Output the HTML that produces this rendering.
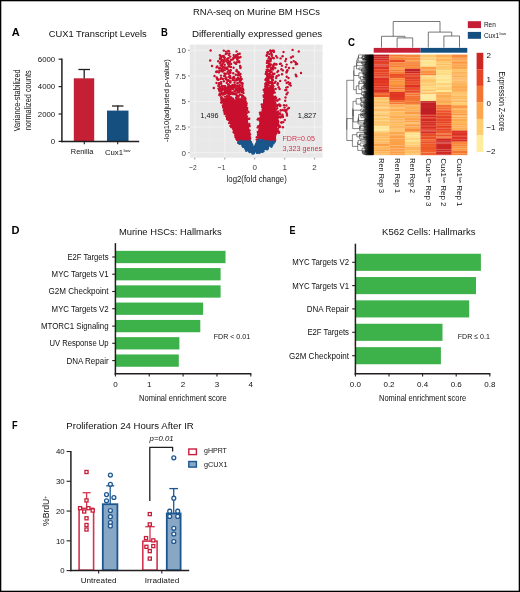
<!DOCTYPE html>
<html><head><meta charset="utf-8"><style>
html,body{margin:0;padding:0;background:#fff;}
svg{display:block;will-change:transform;}
text{font-family:"Liberation Sans",sans-serif;}
</style></head><body>
<svg width="520" height="592" viewBox="0 0 520 592" font-family="Liberation Sans, sans-serif" fill="#111111">
<rect x="0" y="0" width="520" height="592" fill="#fff"/>
<text x="193.00" y="15.20" font-size="9.4" textLength="127.00" lengthAdjust="spacingAndGlyphs">RNA-seq on Murine BM HSCs</text>
<text x="11.80" y="35.80" font-size="10" fill="#000" font-weight="bold" textLength="8.00" lengthAdjust="spacingAndGlyphs">A</text>
<text x="161.00" y="35.80" font-size="10" fill="#000" font-weight="bold" textLength="6.80" lengthAdjust="spacingAndGlyphs">B</text>
<text x="348.00" y="46.30" font-size="10" fill="#000" font-weight="bold" textLength="7.00" lengthAdjust="spacingAndGlyphs">C</text>
<text x="11.50" y="234.40" font-size="10" fill="#000" font-weight="bold" textLength="8.00" lengthAdjust="spacingAndGlyphs">D</text>
<text x="289.40" y="234.20" font-size="10" fill="#000" font-weight="bold" textLength="6.00" lengthAdjust="spacingAndGlyphs">E</text>
<text x="12.00" y="428.80" font-size="10" fill="#000" font-weight="bold" textLength="5.60" lengthAdjust="spacingAndGlyphs">F</text>
<text x="48.80" y="36.80" font-size="9.6" textLength="98.00" lengthAdjust="spacingAndGlyphs">CUX1 Transcript Levels</text>
<rect x="73.80" y="78.30" width="20.40" height="63.10" fill="#c41f35"/>
<rect x="107.00" y="110.60" width="21.50" height="30.80" fill="#144f80"/>
<line x1="84.20" y1="78.50" x2="84.20" y2="68.90" stroke="#231f20" stroke-width="1.3"/>
<line x1="78.40" y1="69.50" x2="90.00" y2="69.50" stroke="#231f20" stroke-width="1.3"/>
<line x1="117.80" y1="110.80" x2="117.80" y2="105.40" stroke="#231f20" stroke-width="1.3"/>
<line x1="112.00" y1="106.00" x2="123.50" y2="106.00" stroke="#231f20" stroke-width="1.3"/>
<line x1="61.90" y1="58.40" x2="61.90" y2="142.15" stroke="#231f20" stroke-width="1.5"/>
<line x1="61.15" y1="141.40" x2="139.20" y2="141.40" stroke="#231f20" stroke-width="1.5"/>
<line x1="58.60" y1="141.40" x2="61.90" y2="141.40" stroke="#231f20" stroke-width="1.2"/>
<text x="55.20" y="144.20" font-size="7.8" text-anchor="end">0</text>
<line x1="58.60" y1="114.00" x2="61.90" y2="114.00" stroke="#231f20" stroke-width="1.2"/>
<text x="55.20" y="116.80" font-size="7.8" text-anchor="end">2000</text>
<line x1="58.60" y1="86.60" x2="61.90" y2="86.60" stroke="#231f20" stroke-width="1.2"/>
<text x="55.20" y="89.40" font-size="7.8" text-anchor="end">4000</text>
<line x1="58.60" y1="59.20" x2="61.90" y2="59.20" stroke="#231f20" stroke-width="1.2"/>
<text x="55.20" y="62.00" font-size="7.8" text-anchor="end">6000</text>
<line x1="84.30" y1="141.40" x2="84.30" y2="144.20" stroke="#231f20" stroke-width="1.1"/>
<line x1="117.70" y1="141.40" x2="117.70" y2="144.20" stroke="#231f20" stroke-width="1.1"/>
<text x="82.10" y="154.30" font-size="8" text-anchor="middle" textLength="22.60" lengthAdjust="spacingAndGlyphs">Renilla</text>
<text x="104.90" y="155.40" font-size="8" textLength="18.10" lengthAdjust="spacingAndGlyphs">Cux1</text>
<text x="123.40" y="152.40" font-size="4.2" textLength="7.20" lengthAdjust="spacingAndGlyphs">low</text>
<text x="20.20" y="100.30" font-size="9.6" text-anchor="middle" textLength="62.00" lengthAdjust="spacingAndGlyphs" transform="rotate(-90 20.20 100.30)">Variance-stabilized</text>
<text x="31.30" y="100.30" font-size="9.6" text-anchor="middle" textLength="60.00" lengthAdjust="spacingAndGlyphs" transform="rotate(-90 31.30 100.30)">normalized counts</text>
<text x="191.90" y="36.60" font-size="9.4" textLength="130.30" lengthAdjust="spacingAndGlyphs">Differentially expressed genes</text>
<rect x="189.80" y="44.60" width="132.70" height="113.10" fill="#e8e8e8"/>
<line x1="194.80" y1="44.60" x2="194.80" y2="157.70" stroke="#f2f2f2" stroke-width="1.0"/>
<line x1="209.77" y1="44.60" x2="209.77" y2="157.70" stroke="#ededed" stroke-width="0.6"/>
<line x1="224.75" y1="44.60" x2="224.75" y2="157.70" stroke="#f2f2f2" stroke-width="1.0"/>
<line x1="239.72" y1="44.60" x2="239.72" y2="157.70" stroke="#ededed" stroke-width="0.6"/>
<line x1="254.70" y1="44.60" x2="254.70" y2="157.70" stroke="#f2f2f2" stroke-width="1.0"/>
<line x1="269.68" y1="44.60" x2="269.68" y2="157.70" stroke="#ededed" stroke-width="0.6"/>
<line x1="284.65" y1="44.60" x2="284.65" y2="157.70" stroke="#f2f2f2" stroke-width="1.0"/>
<line x1="299.62" y1="44.60" x2="299.62" y2="157.70" stroke="#ededed" stroke-width="0.6"/>
<line x1="314.60" y1="44.60" x2="314.60" y2="157.70" stroke="#f2f2f2" stroke-width="1.0"/>
<line x1="189.80" y1="152.70" x2="322.50" y2="152.70" stroke="#f2f2f2" stroke-width="1.0"/>
<line x1="189.80" y1="139.90" x2="322.50" y2="139.90" stroke="#ededed" stroke-width="0.6"/>
<line x1="189.80" y1="127.10" x2="322.50" y2="127.10" stroke="#f2f2f2" stroke-width="1.0"/>
<line x1="189.80" y1="114.30" x2="322.50" y2="114.30" stroke="#ededed" stroke-width="0.6"/>
<line x1="189.80" y1="101.50" x2="322.50" y2="101.50" stroke="#f2f2f2" stroke-width="1.0"/>
<line x1="189.80" y1="88.70" x2="322.50" y2="88.70" stroke="#ededed" stroke-width="0.6"/>
<line x1="189.80" y1="75.90" x2="322.50" y2="75.90" stroke="#f2f2f2" stroke-width="1.0"/>
<line x1="189.80" y1="63.10" x2="322.50" y2="63.10" stroke="#ededed" stroke-width="0.6"/>
<line x1="189.80" y1="50.30" x2="322.50" y2="50.30" stroke="#f2f2f2" stroke-width="1.0"/>
<g fill="#c8102e"><polygon points="221.5,100.5 233.0,100.0 245.5,100.5 247.0,115.0 249.5,130.0 250.3,139.6 236.5,139.6 236.0,138.0 226.2,115.0"/><polygon points="264.0,90.0 273.2,90.0 273.5,95.0 276.0,111.0 278.0,115.0 277.0,130.0 275.8,139.6 257.3,139.6 258.3,129.0 260.5,115.0 262.2,108.0 264.3,95.0"/></g>
<g fill="#1a558c"><polygon points="237.5,139.5 250.6,139.5 253.8,146.5 257.0,139.5 275.5,139.5 271.5,145.0 266.3,149.5 260.5,152.3 252.5,152.3 246.4,149.5 241.3,145.0"/></g>
<g fill="#1a558c"><circle cx="267.4" cy="147.5" r="1.2"/><circle cx="271.9" cy="143.3" r="1.2"/><circle cx="258.1" cy="139.9" r="1.2"/><circle cx="273.8" cy="141.5" r="1.2"/><circle cx="237.9" cy="140.5" r="1.2"/><circle cx="254.1" cy="152.5" r="1.2"/><circle cx="245.3" cy="148.8" r="1.2"/><circle cx="264.6" cy="139.9" r="1.2"/><circle cx="248.1" cy="141.0" r="1.2"/><circle cx="257.5" cy="152.7" r="1.2"/><circle cx="247.5" cy="149.2" r="1.2"/><circle cx="257.2" cy="151.3" r="1.2"/><circle cx="243.2" cy="146.8" r="1.2"/><circle cx="267.9" cy="148.1" r="1.2"/><circle cx="274.8" cy="140.1" r="1.2"/><circle cx="258.0" cy="140.1" r="1.2"/><circle cx="271.4" cy="146.8" r="1.2"/><circle cx="239.9" cy="143.3" r="1.2"/><circle cx="242.9" cy="146.2" r="1.2"/><circle cx="270.1" cy="145.1" r="1.2"/><circle cx="251.8" cy="151.8" r="1.2"/><circle cx="273.2" cy="141.3" r="1.2"/><circle cx="265.1" cy="140.1" r="1.2"/><circle cx="274.2" cy="142.3" r="1.2"/><circle cx="245.6" cy="148.0" r="1.2"/><circle cx="251.2" cy="143.9" r="1.2"/><circle cx="248.9" cy="150.8" r="1.2"/><circle cx="243.4" cy="146.2" r="1.2"/><circle cx="238.5" cy="139.9" r="1.2"/><circle cx="275.0" cy="140.8" r="1.2"/><circle cx="266.3" cy="148.8" r="1.2"/><circle cx="237.7" cy="139.9" r="1.2"/><circle cx="262.2" cy="151.8" r="1.2"/><circle cx="247.1" cy="149.7" r="1.2"/><circle cx="252.2" cy="144.6" r="1.2"/><circle cx="249.6" cy="140.3" r="1.2"/><circle cx="274.2" cy="141.0" r="1.2"/><circle cx="251.0" cy="151.6" r="1.2"/><circle cx="253.7" cy="153.2" r="1.2"/><circle cx="262.5" cy="139.9" r="1.2"/><circle cx="238.9" cy="143.0" r="1.2"/><circle cx="256.4" cy="144.2" r="1.2"/><circle cx="246.2" cy="150.8" r="1.2"/><circle cx="249.8" cy="152.0" r="1.2"/><circle cx="238.2" cy="142.7" r="1.2"/><circle cx="253.5" cy="147.4" r="1.2"/><circle cx="238.8" cy="142.5" r="1.2"/><circle cx="249.0" cy="151.2" r="1.2"/><circle cx="250.9" cy="142.2" r="1.2"/><circle cx="239.7" cy="143.3" r="1.2"/><circle cx="272.3" cy="140.2" r="1.2"/><circle cx="263.6" cy="140.3" r="1.2"/><circle cx="273.9" cy="140.9" r="1.2"/><circle cx="253.4" cy="152.9" r="1.2"/><circle cx="271.0" cy="145.8" r="1.2"/><circle cx="246.2" cy="140.5" r="1.2"/><circle cx="271.2" cy="145.4" r="1.2"/><circle cx="254.8" cy="146.5" r="1.2"/><circle cx="254.6" cy="151.5" r="1.2"/><circle cx="262.3" cy="150.8" r="1.2"/><circle cx="267.0" cy="149.3" r="1.2"/><circle cx="242.4" cy="145.1" r="1.2"/><circle cx="240.9" cy="140.3" r="1.2"/><circle cx="259.3" cy="152.9" r="1.2"/><circle cx="262.2" cy="151.5" r="1.2"/><circle cx="248.6" cy="150.0" r="1.2"/><circle cx="252.5" cy="153.5" r="1.2"/><circle cx="257.0" cy="152.8" r="1.2"/><circle cx="257.5" cy="141.8" r="1.2"/><circle cx="257.6" cy="151.6" r="1.2"/><circle cx="272.5" cy="139.8" r="1.2"/><circle cx="260.8" cy="151.8" r="1.2"/><circle cx="273.3" cy="143.4" r="1.2"/><circle cx="272.6" cy="143.6" r="1.2"/><circle cx="258.7" cy="140.2" r="1.2"/><circle cx="263.4" cy="151.3" r="1.2"/><circle cx="272.9" cy="141.7" r="1.2"/><circle cx="261.6" cy="140.7" r="1.2"/><circle cx="249.2" cy="150.9" r="1.2"/><circle cx="248.3" cy="140.1" r="1.2"/><circle cx="248.0" cy="140.1" r="1.2"/><circle cx="272.1" cy="145.4" r="1.2"/><circle cx="270.2" cy="140.2" r="1.2"/><circle cx="267.7" cy="148.6" r="1.2"/><circle cx="247.8" cy="149.8" r="1.2"/><circle cx="253.3" cy="151.4" r="1.2"/><circle cx="260.1" cy="140.5" r="1.2"/><circle cx="258.5" cy="140.1" r="1.2"/><circle cx="249.4" cy="149.8" r="1.2"/><circle cx="239.8" cy="143.8" r="1.2"/></g>
<g fill="#c8102e"><circle cx="219.5" cy="70.7" r="1.2"/><circle cx="219.3" cy="83.4" r="1.2"/><circle cx="226.2" cy="79.3" r="1.2"/><circle cx="230.2" cy="56.6" r="1.2"/><circle cx="228.8" cy="55.0" r="1.2"/><circle cx="221.0" cy="57.4" r="1.2"/><circle cx="237.5" cy="74.9" r="1.2"/><circle cx="223.2" cy="60.8" r="1.2"/><circle cx="241.3" cy="82.6" r="1.2"/><circle cx="227.2" cy="80.8" r="1.2"/><circle cx="220.5" cy="94.3" r="1.2"/><circle cx="225.8" cy="90.5" r="1.2"/><circle cx="220.5" cy="62.0" r="1.2"/><circle cx="236.7" cy="70.0" r="1.2"/><circle cx="231.1" cy="63.9" r="1.2"/><circle cx="226.8" cy="83.0" r="1.2"/><circle cx="218.5" cy="79.7" r="1.2"/><circle cx="223.6" cy="56.7" r="1.2"/><circle cx="228.4" cy="84.5" r="1.2"/><circle cx="230.8" cy="70.3" r="1.2"/><circle cx="224.1" cy="76.1" r="1.2"/><circle cx="235.6" cy="88.4" r="1.2"/><circle cx="230.7" cy="67.1" r="1.2"/><circle cx="239.1" cy="78.9" r="1.2"/><circle cx="225.1" cy="86.2" r="1.2"/><circle cx="222.3" cy="94.4" r="1.2"/><circle cx="235.7" cy="74.7" r="1.2"/><circle cx="229.1" cy="62.4" r="1.2"/><circle cx="233.7" cy="55.1" r="1.2"/><circle cx="232.4" cy="87.4" r="1.2"/><circle cx="226.5" cy="91.0" r="1.2"/><circle cx="232.6" cy="85.0" r="1.2"/><circle cx="228.7" cy="80.9" r="1.2"/><circle cx="241.8" cy="89.9" r="1.2"/><circle cx="233.5" cy="76.9" r="1.2"/><circle cx="234.4" cy="56.8" r="1.2"/><circle cx="242.5" cy="83.3" r="1.2"/><circle cx="225.4" cy="89.3" r="1.2"/><circle cx="233.2" cy="73.3" r="1.2"/><circle cx="229.5" cy="53.6" r="1.2"/><circle cx="220.1" cy="63.3" r="1.2"/><circle cx="235.8" cy="56.6" r="1.2"/><circle cx="223.7" cy="61.1" r="1.2"/><circle cx="238.5" cy="73.6" r="1.2"/><circle cx="228.7" cy="58.1" r="1.2"/><circle cx="239.4" cy="79.8" r="1.2"/><circle cx="239.8" cy="89.2" r="1.2"/><circle cx="226.5" cy="68.7" r="1.2"/><circle cx="238.7" cy="72.2" r="1.2"/><circle cx="223.0" cy="93.7" r="1.2"/><circle cx="222.8" cy="63.7" r="1.2"/><circle cx="228.5" cy="66.6" r="1.2"/><circle cx="223.8" cy="81.2" r="1.2"/><circle cx="229.0" cy="51.4" r="1.2"/><circle cx="230.5" cy="72.7" r="1.2"/><circle cx="236.3" cy="93.5" r="1.2"/><circle cx="232.5" cy="78.5" r="1.2"/><circle cx="219.0" cy="84.3" r="1.2"/><circle cx="238.1" cy="91.8" r="1.2"/><circle cx="238.4" cy="91.0" r="1.2"/><circle cx="226.3" cy="73.6" r="1.2"/><circle cx="232.7" cy="59.6" r="1.2"/><circle cx="220.6" cy="56.9" r="1.2"/><circle cx="220.8" cy="65.4" r="1.2"/><circle cx="217.1" cy="71.4" r="1.2"/><circle cx="223.8" cy="50.6" r="1.2"/><circle cx="226.6" cy="59.5" r="1.2"/><circle cx="238.1" cy="53.9" r="1.2"/><circle cx="221.1" cy="82.1" r="1.2"/><circle cx="224.9" cy="67.5" r="1.2"/><circle cx="219.0" cy="72.4" r="1.2"/><circle cx="243.1" cy="90.2" r="1.2"/><circle cx="228.9" cy="76.6" r="1.2"/><circle cx="220.9" cy="58.5" r="1.2"/><circle cx="222.6" cy="71.5" r="1.2"/><circle cx="222.4" cy="89.5" r="1.2"/><circle cx="239.7" cy="53.7" r="1.2"/><circle cx="220.6" cy="79.0" r="1.2"/><circle cx="217.6" cy="79.5" r="1.2"/><circle cx="241.7" cy="79.0" r="1.2"/><circle cx="235.8" cy="90.6" r="1.2"/><circle cx="225.4" cy="67.9" r="1.2"/><circle cx="235.7" cy="63.2" r="1.2"/><circle cx="236.7" cy="79.1" r="1.2"/><circle cx="221.4" cy="71.0" r="1.2"/><circle cx="242.7" cy="88.9" r="1.2"/><circle cx="238.5" cy="90.3" r="1.2"/><circle cx="236.7" cy="89.2" r="1.2"/><circle cx="229.4" cy="66.2" r="1.2"/><circle cx="216.6" cy="72.1" r="1.2"/><circle cx="225.7" cy="54.1" r="1.2"/><circle cx="233.6" cy="67.8" r="1.2"/><circle cx="230.3" cy="93.6" r="1.2"/><circle cx="243.5" cy="93.0" r="1.2"/><circle cx="228.2" cy="93.6" r="1.2"/><circle cx="222.2" cy="65.9" r="1.2"/><circle cx="221.9" cy="64.8" r="1.2"/><circle cx="240.1" cy="82.5" r="1.2"/><circle cx="230.3" cy="89.9" r="1.2"/><circle cx="237.6" cy="83.5" r="1.2"/><circle cx="233.4" cy="58.4" r="1.2"/><circle cx="238.3" cy="92.1" r="1.2"/><circle cx="229.9" cy="86.9" r="1.2"/><circle cx="236.1" cy="63.8" r="1.2"/><circle cx="236.4" cy="71.1" r="1.2"/><circle cx="229.1" cy="94.1" r="1.2"/><circle cx="240.5" cy="74.0" r="1.2"/><circle cx="222.1" cy="86.0" r="1.2"/><circle cx="221.5" cy="61.0" r="1.2"/><circle cx="238.8" cy="92.0" r="1.2"/><circle cx="237.0" cy="62.1" r="1.2"/><circle cx="235.6" cy="94.4" r="1.2"/><circle cx="230.0" cy="71.9" r="1.2"/><circle cx="218.2" cy="61.2" r="1.2"/><circle cx="235.4" cy="94.1" r="1.2"/><circle cx="240.6" cy="78.9" r="1.2"/><circle cx="238.7" cy="75.3" r="1.2"/><circle cx="223.6" cy="89.4" r="1.2"/><circle cx="223.6" cy="67.4" r="1.2"/><circle cx="231.0" cy="66.9" r="1.2"/><circle cx="226.7" cy="67.8" r="1.2"/><circle cx="239.0" cy="61.2" r="1.2"/><circle cx="227.7" cy="72.0" r="1.2"/><circle cx="240.0" cy="81.0" r="1.2"/><circle cx="239.8" cy="74.8" r="1.2"/><circle cx="230.2" cy="78.0" r="1.2"/><circle cx="217.3" cy="78.8" r="1.2"/><circle cx="221.0" cy="75.6" r="1.2"/><circle cx="236.6" cy="51.4" r="1.2"/><circle cx="228.6" cy="63.5" r="1.2"/><circle cx="231.8" cy="86.0" r="1.2"/><circle cx="229.1" cy="70.8" r="1.2"/><circle cx="236.9" cy="80.0" r="1.2"/><circle cx="231.0" cy="59.8" r="1.2"/><circle cx="223.2" cy="67.3" r="1.2"/><circle cx="230.8" cy="87.6" r="1.2"/><circle cx="236.3" cy="80.2" r="1.2"/><circle cx="229.9" cy="92.2" r="1.2"/><circle cx="230.1" cy="82.1" r="1.2"/><circle cx="234.4" cy="78.4" r="1.2"/><circle cx="230.1" cy="76.0" r="1.2"/><circle cx="240.6" cy="77.0" r="1.2"/><circle cx="239.7" cy="85.1" r="1.2"/><circle cx="225.5" cy="93.2" r="1.2"/><circle cx="240.9" cy="80.1" r="1.2"/><circle cx="221.9" cy="89.9" r="1.2"/><circle cx="228.2" cy="60.7" r="1.2"/><circle cx="224.2" cy="57.6" r="1.2"/><circle cx="233.6" cy="57.6" r="1.2"/><circle cx="240.5" cy="88.0" r="1.2"/><circle cx="234.4" cy="62.5" r="1.2"/><circle cx="221.2" cy="83.8" r="1.2"/><circle cx="242.7" cy="91.3" r="1.2"/><circle cx="240.1" cy="65.9" r="1.2"/><circle cx="228.6" cy="73.9" r="1.2"/><circle cx="240.0" cy="94.7" r="1.2"/><circle cx="227.7" cy="62.9" r="1.2"/><circle cx="225.4" cy="78.5" r="1.2"/><circle cx="224.7" cy="64.7" r="1.2"/><circle cx="218.4" cy="85.9" r="1.2"/><circle cx="228.2" cy="79.9" r="1.2"/><circle cx="226.9" cy="53.2" r="1.2"/><circle cx="230.3" cy="82.5" r="1.2"/><circle cx="240.5" cy="57.0" r="1.2"/><circle cx="242.3" cy="88.2" r="1.2"/><circle cx="224.4" cy="59.7" r="1.2"/><circle cx="236.1" cy="55.1" r="1.2"/><circle cx="219.3" cy="68.3" r="1.2"/><circle cx="239.6" cy="74.8" r="1.2"/><circle cx="224.8" cy="89.2" r="1.2"/><circle cx="239.2" cy="62.3" r="1.2"/><circle cx="234.8" cy="80.5" r="1.2"/><circle cx="219.9" cy="58.7" r="1.2"/><circle cx="228.4" cy="84.8" r="1.2"/><circle cx="239.5" cy="57.6" r="1.2"/><circle cx="237.6" cy="82.9" r="1.2"/><circle cx="237.7" cy="58.3" r="1.2"/><circle cx="237.9" cy="57.2" r="1.2"/><circle cx="225.1" cy="76.1" r="1.2"/><circle cx="240.5" cy="79.9" r="1.2"/><circle cx="219.3" cy="68.2" r="1.2"/><circle cx="222.9" cy="78.9" r="1.2"/><circle cx="221.9" cy="60.0" r="1.2"/><circle cx="223.7" cy="56.0" r="1.2"/><circle cx="223.5" cy="70.2" r="1.2"/><circle cx="225.3" cy="87.2" r="1.2"/><circle cx="221.2" cy="77.9" r="1.2"/><circle cx="216.2" cy="71.7" r="1.2"/><circle cx="216.6" cy="67.4" r="1.2"/><circle cx="231.7" cy="86.3" r="1.2"/><circle cx="228.5" cy="64.4" r="1.2"/><circle cx="221.7" cy="92.9" r="1.2"/><circle cx="229.1" cy="89.2" r="1.2"/><circle cx="237.9" cy="77.7" r="1.2"/><circle cx="229.1" cy="73.6" r="1.2"/><circle cx="242.3" cy="84.7" r="1.2"/><circle cx="237.3" cy="71.5" r="1.2"/><circle cx="233.7" cy="85.4" r="1.2"/><circle cx="225.1" cy="74.1" r="1.2"/><circle cx="222.1" cy="56.3" r="1.2"/><circle cx="235.2" cy="57.5" r="1.2"/><circle cx="220.3" cy="67.6" r="1.2"/><circle cx="237.4" cy="58.4" r="1.2"/><circle cx="235.2" cy="90.9" r="1.2"/><circle cx="222.0" cy="68.8" r="1.2"/><circle cx="227.5" cy="69.3" r="1.2"/><circle cx="228.0" cy="62.7" r="1.2"/><circle cx="240.4" cy="68.0" r="1.2"/><circle cx="232.8" cy="94.1" r="1.2"/><circle cx="240.5" cy="67.1" r="1.2"/><circle cx="224.8" cy="70.1" r="1.2"/><circle cx="228.3" cy="50.9" r="1.2"/><circle cx="229.4" cy="76.9" r="1.2"/><circle cx="229.2" cy="65.0" r="1.2"/><circle cx="225.9" cy="51.6" r="1.2"/><circle cx="227.5" cy="58.7" r="1.2"/><circle cx="220.0" cy="55.3" r="1.2"/><circle cx="221.6" cy="69.8" r="1.2"/><circle cx="230.5" cy="81.1" r="1.2"/><circle cx="234.4" cy="86.9" r="1.2"/><circle cx="239.8" cy="85.7" r="1.2"/><circle cx="224.4" cy="73.5" r="1.2"/><circle cx="223.1" cy="94.5" r="1.2"/><circle cx="234.0" cy="86.0" r="1.2"/><circle cx="237.3" cy="55.5" r="1.2"/><circle cx="234.3" cy="91.6" r="1.2"/><circle cx="238.2" cy="86.3" r="1.2"/><circle cx="230.0" cy="61.7" r="1.2"/><circle cx="238.0" cy="78.1" r="1.2"/><circle cx="238.8" cy="88.7" r="1.2"/><circle cx="239.7" cy="81.0" r="1.2"/><circle cx="235.1" cy="84.6" r="1.2"/><circle cx="217.3" cy="66.4" r="1.2"/><circle cx="226.2" cy="61.3" r="1.2"/><circle cx="237.3" cy="59.7" r="1.2"/><circle cx="232.9" cy="80.1" r="1.2"/><circle cx="234.5" cy="82.6" r="1.2"/><circle cx="216.7" cy="77.5" r="1.2"/><circle cx="236.8" cy="88.5" r="1.2"/><circle cx="230.3" cy="78.0" r="1.2"/><circle cx="219.2" cy="83.7" r="1.2"/><circle cx="224.3" cy="86.4" r="1.2"/><circle cx="224.7" cy="57.7" r="1.2"/><circle cx="223.0" cy="86.2" r="1.2"/><circle cx="242.3" cy="86.5" r="1.2"/><circle cx="226.4" cy="77.7" r="1.2"/><circle cx="234.0" cy="77.1" r="1.2"/><circle cx="233.5" cy="87.5" r="1.2"/><circle cx="219.4" cy="83.2" r="1.2"/><circle cx="223.6" cy="62.2" r="1.2"/><circle cx="227.8" cy="97.5" r="1.2"/><circle cx="219.8" cy="94.8" r="1.2"/><circle cx="224.9" cy="86.9" r="1.2"/><circle cx="237.0" cy="96.4" r="1.2"/><circle cx="227.1" cy="96.5" r="1.2"/><circle cx="230.9" cy="94.0" r="1.2"/><circle cx="222.2" cy="93.2" r="1.2"/><circle cx="226.0" cy="99.9" r="1.2"/><circle cx="243.7" cy="101.2" r="1.2"/><circle cx="229.6" cy="86.3" r="1.2"/><circle cx="244.1" cy="98.7" r="1.2"/><circle cx="225.8" cy="93.0" r="1.2"/><circle cx="242.2" cy="89.3" r="1.2"/><circle cx="233.1" cy="89.3" r="1.2"/><circle cx="231.5" cy="88.2" r="1.2"/><circle cx="224.7" cy="100.8" r="1.2"/><circle cx="233.1" cy="98.7" r="1.2"/><circle cx="238.0" cy="99.7" r="1.2"/><circle cx="241.1" cy="89.6" r="1.2"/><circle cx="219.9" cy="93.5" r="1.2"/><circle cx="230.4" cy="86.1" r="1.2"/><circle cx="226.7" cy="93.0" r="1.2"/><circle cx="227.0" cy="88.2" r="1.2"/><circle cx="239.8" cy="90.9" r="1.2"/><circle cx="236.9" cy="86.0" r="1.2"/><circle cx="223.8" cy="99.0" r="1.2"/><circle cx="238.3" cy="100.4" r="1.2"/><circle cx="228.2" cy="100.0" r="1.2"/><circle cx="228.8" cy="91.8" r="1.2"/><circle cx="235.6" cy="101.5" r="1.2"/><circle cx="229.6" cy="91.6" r="1.2"/><circle cx="219.9" cy="90.3" r="1.2"/><circle cx="239.2" cy="87.6" r="1.2"/><circle cx="242.1" cy="90.4" r="1.2"/><circle cx="225.3" cy="89.9" r="1.2"/><circle cx="224.0" cy="93.9" r="1.2"/><circle cx="242.8" cy="91.8" r="1.2"/><circle cx="240.5" cy="99.7" r="1.2"/><circle cx="242.3" cy="95.8" r="1.2"/><circle cx="234.5" cy="100.6" r="1.2"/><circle cx="221.5" cy="97.2" r="1.2"/><circle cx="231.3" cy="97.4" r="1.2"/><circle cx="236.1" cy="97.7" r="1.2"/><circle cx="220.0" cy="90.4" r="1.2"/><circle cx="224.4" cy="100.4" r="1.2"/><circle cx="227.8" cy="93.3" r="1.2"/><circle cx="237.2" cy="90.6" r="1.2"/><circle cx="227.8" cy="101.1" r="1.2"/><circle cx="227.3" cy="96.2" r="1.2"/><circle cx="229.2" cy="94.6" r="1.2"/><circle cx="222.5" cy="88.6" r="1.2"/><circle cx="241.2" cy="89.2" r="1.2"/><circle cx="224.8" cy="93.7" r="1.2"/><circle cx="245.0" cy="100.0" r="1.2"/><circle cx="222.6" cy="93.0" r="1.2"/><circle cx="220.8" cy="89.0" r="1.2"/><circle cx="221.2" cy="91.3" r="1.2"/><circle cx="225.1" cy="89.7" r="1.2"/><circle cx="241.5" cy="94.8" r="1.2"/><circle cx="230.4" cy="97.6" r="1.2"/><circle cx="232.1" cy="92.4" r="1.2"/><circle cx="227.4" cy="91.8" r="1.2"/><circle cx="225.1" cy="87.0" r="1.2"/><circle cx="224.6" cy="101.0" r="1.2"/><circle cx="234.9" cy="93.8" r="1.2"/><circle cx="226.2" cy="99.4" r="1.2"/><circle cx="224.9" cy="90.2" r="1.2"/><circle cx="230.1" cy="92.2" r="1.2"/><circle cx="241.6" cy="100.8" r="1.2"/><circle cx="221.6" cy="99.5" r="1.2"/><circle cx="235.9" cy="86.5" r="1.2"/><circle cx="232.5" cy="99.9" r="1.2"/><circle cx="219.5" cy="95.1" r="1.2"/><circle cx="242.1" cy="92.1" r="1.2"/><circle cx="241.4" cy="98.8" r="1.2"/><circle cx="227.5" cy="101.1" r="1.2"/><circle cx="222.2" cy="87.7" r="1.2"/><circle cx="236.3" cy="94.1" r="1.2"/><circle cx="238.6" cy="100.6" r="1.2"/><circle cx="238.7" cy="96.0" r="1.2"/><circle cx="232.9" cy="93.1" r="1.2"/><circle cx="237.8" cy="86.6" r="1.2"/><circle cx="241.6" cy="89.6" r="1.2"/><circle cx="227.3" cy="96.0" r="1.2"/><circle cx="224.7" cy="88.0" r="1.2"/><circle cx="237.0" cy="95.9" r="1.2"/><circle cx="220.1" cy="87.7" r="1.2"/><circle cx="233.8" cy="94.1" r="1.2"/><circle cx="224.6" cy="92.0" r="1.2"/><circle cx="219.9" cy="95.3" r="1.2"/><circle cx="230.3" cy="90.7" r="1.2"/><circle cx="236.8" cy="100.9" r="1.2"/><circle cx="232.5" cy="99.7" r="1.2"/><circle cx="224.8" cy="89.6" r="1.2"/><circle cx="238.2" cy="100.9" r="1.2"/><circle cx="219.3" cy="90.8" r="1.2"/><circle cx="236.1" cy="93.7" r="1.2"/><circle cx="225.5" cy="92.5" r="1.2"/><circle cx="242.7" cy="96.3" r="1.2"/><circle cx="219.4" cy="89.5" r="1.2"/><circle cx="229.4" cy="91.2" r="1.2"/><circle cx="224.9" cy="96.6" r="1.2"/><circle cx="238.5" cy="98.4" r="1.2"/><circle cx="224.4" cy="93.8" r="1.2"/><circle cx="229.0" cy="101.0" r="1.2"/><circle cx="226.4" cy="98.7" r="1.2"/><circle cx="237.6" cy="89.4" r="1.2"/><circle cx="242.6" cy="90.6" r="1.2"/><circle cx="223.9" cy="93.7" r="1.2"/><circle cx="229.0" cy="89.5" r="1.2"/><circle cx="243.2" cy="96.3" r="1.2"/><circle cx="228.3" cy="88.3" r="1.2"/><circle cx="243.0" cy="89.3" r="1.2"/><circle cx="219.7" cy="88.2" r="1.2"/><circle cx="228.1" cy="86.9" r="1.2"/><circle cx="242.3" cy="99.9" r="1.2"/><circle cx="244.6" cy="97.4" r="1.2"/><circle cx="229.2" cy="100.4" r="1.2"/><circle cx="241.9" cy="88.9" r="1.2"/><circle cx="221.2" cy="97.6" r="1.2"/><circle cx="229.3" cy="96.3" r="1.2"/><circle cx="227.2" cy="91.8" r="1.2"/><circle cx="218.5" cy="88.6" r="1.2"/><circle cx="227.5" cy="90.3" r="1.2"/><circle cx="224.5" cy="100.8" r="1.2"/><circle cx="226.5" cy="100.9" r="1.2"/><circle cx="239.4" cy="91.5" r="1.2"/><circle cx="231.2" cy="98.7" r="1.2"/><circle cx="230.0" cy="86.8" r="1.2"/><circle cx="241.9" cy="91.8" r="1.2"/><circle cx="227.6" cy="89.0" r="1.2"/><circle cx="222.0" cy="99.9" r="1.2"/><circle cx="239.3" cy="92.4" r="1.2"/><circle cx="221.5" cy="97.9" r="1.2"/><circle cx="219.7" cy="86.5" r="1.2"/><circle cx="227.5" cy="100.3" r="1.2"/><circle cx="242.2" cy="97.6" r="1.2"/><circle cx="225.7" cy="91.3" r="1.2"/><circle cx="236.1" cy="100.8" r="1.2"/><circle cx="236.6" cy="90.1" r="1.2"/><circle cx="225.7" cy="90.9" r="1.2"/><circle cx="237.1" cy="86.1" r="1.2"/><circle cx="236.4" cy="100.2" r="1.2"/><circle cx="222.1" cy="100.6" r="1.2"/><circle cx="230.5" cy="89.6" r="1.2"/><circle cx="244.1" cy="100.8" r="1.2"/><circle cx="225.3" cy="92.0" r="1.2"/><circle cx="231.4" cy="92.7" r="1.2"/><circle cx="225.7" cy="100.4" r="1.2"/><circle cx="238.5" cy="98.4" r="1.2"/><circle cx="271.3" cy="88.0" r="1.2"/><circle cx="267.8" cy="82.7" r="1.2"/><circle cx="268.4" cy="74.2" r="1.2"/><circle cx="265.7" cy="87.1" r="1.2"/><circle cx="271.4" cy="69.6" r="1.2"/><circle cx="266.3" cy="71.6" r="1.2"/><circle cx="270.2" cy="60.7" r="1.2"/><circle cx="273.0" cy="74.4" r="1.2"/><circle cx="273.0" cy="89.4" r="1.2"/><circle cx="266.4" cy="72.2" r="1.2"/><circle cx="269.7" cy="64.8" r="1.2"/><circle cx="268.7" cy="85.3" r="1.2"/><circle cx="268.9" cy="71.1" r="1.2"/><circle cx="270.5" cy="83.0" r="1.2"/><circle cx="271.8" cy="86.2" r="1.2"/><circle cx="266.1" cy="84.2" r="1.2"/><circle cx="267.4" cy="88.4" r="1.2"/><circle cx="268.2" cy="81.6" r="1.2"/><circle cx="266.7" cy="86.0" r="1.2"/><circle cx="267.6" cy="71.6" r="1.2"/><circle cx="272.4" cy="67.7" r="1.2"/><circle cx="267.8" cy="81.9" r="1.2"/><circle cx="273.1" cy="76.7" r="1.2"/><circle cx="267.2" cy="80.0" r="1.2"/><circle cx="270.3" cy="87.7" r="1.2"/><circle cx="265.7" cy="91.8" r="1.2"/><circle cx="271.7" cy="79.0" r="1.2"/><circle cx="272.4" cy="88.4" r="1.2"/><circle cx="268.4" cy="61.2" r="1.2"/><circle cx="267.4" cy="66.0" r="1.2"/><circle cx="269.7" cy="91.4" r="1.2"/><circle cx="268.0" cy="90.5" r="1.2"/><circle cx="268.6" cy="89.0" r="1.2"/><circle cx="271.6" cy="72.0" r="1.2"/><circle cx="265.7" cy="90.8" r="1.2"/><circle cx="270.1" cy="82.4" r="1.2"/><circle cx="268.6" cy="70.4" r="1.2"/><circle cx="267.5" cy="67.1" r="1.2"/><circle cx="270.2" cy="71.9" r="1.2"/><circle cx="266.8" cy="83.8" r="1.2"/><circle cx="268.7" cy="58.5" r="1.2"/><circle cx="266.6" cy="84.5" r="1.2"/><circle cx="267.2" cy="73.9" r="1.2"/><circle cx="269.4" cy="87.4" r="1.2"/><circle cx="266.9" cy="62.9" r="1.2"/><circle cx="269.7" cy="76.6" r="1.2"/><circle cx="265.9" cy="83.5" r="1.2"/><circle cx="271.0" cy="68.2" r="1.2"/><circle cx="267.7" cy="77.1" r="1.2"/><circle cx="272.8" cy="73.7" r="1.2"/><circle cx="269.9" cy="73.9" r="1.2"/><circle cx="268.7" cy="75.4" r="1.2"/><circle cx="273.1" cy="89.0" r="1.2"/><circle cx="267.1" cy="75.6" r="1.2"/><circle cx="266.7" cy="85.8" r="1.2"/><circle cx="272.8" cy="57.7" r="1.2"/><circle cx="271.7" cy="77.5" r="1.2"/><circle cx="272.2" cy="77.0" r="1.2"/><circle cx="266.7" cy="78.6" r="1.2"/><circle cx="270.3" cy="58.9" r="1.2"/><circle cx="272.3" cy="83.6" r="1.2"/><circle cx="270.6" cy="64.4" r="1.2"/><circle cx="269.4" cy="75.9" r="1.2"/><circle cx="268.0" cy="67.3" r="1.2"/><circle cx="272.5" cy="80.3" r="1.2"/><circle cx="269.6" cy="65.5" r="1.2"/><circle cx="272.8" cy="87.6" r="1.2"/><circle cx="266.8" cy="69.6" r="1.2"/><circle cx="273.0" cy="90.8" r="1.2"/><circle cx="265.8" cy="79.3" r="1.2"/><circle cx="268.1" cy="90.4" r="1.2"/><circle cx="270.0" cy="89.9" r="1.2"/><circle cx="266.3" cy="88.1" r="1.2"/><circle cx="266.8" cy="87.2" r="1.2"/><circle cx="272.0" cy="76.9" r="1.2"/><circle cx="266.5" cy="88.2" r="1.2"/><circle cx="268.8" cy="70.4" r="1.2"/><circle cx="268.3" cy="80.3" r="1.2"/><circle cx="267.8" cy="66.2" r="1.2"/><circle cx="272.2" cy="85.7" r="1.2"/><circle cx="270.3" cy="61.3" r="1.2"/><circle cx="265.4" cy="86.5" r="1.2"/><circle cx="265.9" cy="88.4" r="1.2"/><circle cx="269.5" cy="82.5" r="1.2"/><circle cx="267.6" cy="83.2" r="1.2"/><circle cx="269.9" cy="77.4" r="1.2"/><circle cx="270.5" cy="77.6" r="1.2"/><circle cx="268.8" cy="78.2" r="1.2"/><circle cx="270.7" cy="59.8" r="1.2"/><circle cx="267.2" cy="79.5" r="1.2"/><circle cx="271.3" cy="86.6" r="1.2"/><circle cx="266.8" cy="78.5" r="1.2"/><circle cx="266.3" cy="79.0" r="1.2"/><circle cx="269.2" cy="66.5" r="1.2"/><circle cx="269.3" cy="64.6" r="1.2"/><circle cx="265.7" cy="80.0" r="1.2"/><circle cx="265.9" cy="83.5" r="1.2"/><circle cx="271.3" cy="85.9" r="1.2"/><circle cx="265.8" cy="80.1" r="1.2"/><circle cx="268.3" cy="79.9" r="1.2"/><circle cx="266.0" cy="90.9" r="1.2"/><circle cx="273.1" cy="88.8" r="1.2"/><circle cx="271.6" cy="85.9" r="1.2"/><circle cx="273.1" cy="69.4" r="1.2"/><circle cx="272.7" cy="79.5" r="1.2"/><circle cx="266.3" cy="90.2" r="1.2"/><circle cx="272.5" cy="87.2" r="1.2"/><circle cx="268.7" cy="63.0" r="1.2"/><circle cx="266.3" cy="86.4" r="1.2"/><circle cx="267.2" cy="89.7" r="1.2"/><circle cx="266.2" cy="87.9" r="1.2"/><circle cx="272.5" cy="79.8" r="1.2"/><circle cx="267.8" cy="70.0" r="1.2"/><circle cx="267.8" cy="79.9" r="1.2"/><circle cx="267.6" cy="61.0" r="1.2"/><circle cx="272.8" cy="68.0" r="1.2"/><circle cx="272.2" cy="84.6" r="1.2"/><circle cx="271.7" cy="68.4" r="1.2"/><circle cx="269.9" cy="65.8" r="1.2"/><circle cx="268.0" cy="83.4" r="1.2"/><circle cx="269.5" cy="89.2" r="1.2"/><circle cx="272.1" cy="82.0" r="1.2"/><circle cx="273.3" cy="65.3" r="1.2"/><circle cx="268.3" cy="83.3" r="1.2"/><circle cx="267.2" cy="87.4" r="1.2"/><circle cx="269.7" cy="91.8" r="1.2"/><circle cx="271.4" cy="75.5" r="1.2"/><circle cx="266.8" cy="78.1" r="1.2"/><circle cx="265.5" cy="86.1" r="1.2"/><circle cx="267.1" cy="88.0" r="1.2"/><circle cx="272.9" cy="83.5" r="1.2"/><circle cx="270.4" cy="82.1" r="1.2"/><circle cx="265.7" cy="73.9" r="1.2"/><circle cx="267.3" cy="60.7" r="1.2"/><circle cx="268.6" cy="82.9" r="1.2"/><circle cx="272.3" cy="80.1" r="1.2"/><circle cx="267.7" cy="66.7" r="1.2"/><circle cx="265.4" cy="83.9" r="1.2"/><circle cx="268.9" cy="57.0" r="1.2"/><circle cx="268.7" cy="65.4" r="1.2"/><circle cx="270.1" cy="70.7" r="1.2"/><circle cx="266.9" cy="82.2" r="1.2"/><circle cx="268.9" cy="83.1" r="1.2"/><circle cx="272.8" cy="66.8" r="1.2"/><circle cx="266.9" cy="71.4" r="1.2"/><circle cx="270.7" cy="64.8" r="1.2"/><circle cx="271.3" cy="89.1" r="1.2"/><circle cx="267.5" cy="76.8" r="1.2"/><circle cx="270.9" cy="58.5" r="1.2"/><circle cx="268.0" cy="81.5" r="1.2"/><circle cx="269.3" cy="54.1" r="1.2"/><circle cx="271.8" cy="55.7" r="1.2"/><circle cx="273.8" cy="51.9" r="1.2"/><circle cx="270.3" cy="50.7" r="1.2"/><circle cx="267.4" cy="52.7" r="1.2"/><circle cx="272.7" cy="50.8" r="1.2"/><circle cx="270.5" cy="50.6" r="1.2"/><circle cx="266.7" cy="55.7" r="1.2"/><circle cx="271.0" cy="51.6" r="1.2"/><circle cx="271.2" cy="53.3" r="1.2"/><circle cx="266.9" cy="55.0" r="1.2"/><circle cx="268.0" cy="52.2" r="1.2"/><circle cx="273.8" cy="50.8" r="1.2"/><circle cx="271.7" cy="54.8" r="1.2"/><circle cx="292.9" cy="56.5" r="1.2"/><circle cx="280.1" cy="114.1" r="1.2"/><circle cx="280.0" cy="113.9" r="1.2"/><circle cx="274.4" cy="73.6" r="1.2"/><circle cx="273.6" cy="74.1" r="1.2"/><circle cx="288.2" cy="82.2" r="1.2"/><circle cx="286.0" cy="110.2" r="1.2"/><circle cx="278.0" cy="111.5" r="1.2"/><circle cx="279.4" cy="99.2" r="1.2"/><circle cx="280.6" cy="117.5" r="1.2"/><circle cx="286.7" cy="76.7" r="1.2"/><circle cx="277.3" cy="131.3" r="1.2"/><circle cx="276.6" cy="124.6" r="1.2"/><circle cx="276.7" cy="76.3" r="1.2"/><circle cx="286.9" cy="114.0" r="1.2"/><circle cx="278.6" cy="114.2" r="1.2"/><circle cx="278.4" cy="124.7" r="1.2"/><circle cx="295.7" cy="74.7" r="1.2"/><circle cx="284.0" cy="105.2" r="1.2"/><circle cx="288.9" cy="107.9" r="1.2"/><circle cx="287.7" cy="92.6" r="1.2"/><circle cx="286.2" cy="110.4" r="1.2"/><circle cx="285.2" cy="90.1" r="1.2"/><circle cx="277.6" cy="100.5" r="1.2"/><circle cx="286.5" cy="72.5" r="1.2"/><circle cx="295.3" cy="62.1" r="1.2"/><circle cx="273.6" cy="67.3" r="1.2"/><circle cx="296.0" cy="64.3" r="1.2"/><circle cx="274.7" cy="82.9" r="1.2"/><circle cx="273.8" cy="58.2" r="1.2"/><circle cx="282.7" cy="110.0" r="1.2"/><circle cx="284.2" cy="110.4" r="1.2"/><circle cx="285.3" cy="61.1" r="1.2"/><circle cx="289.4" cy="84.3" r="1.2"/><circle cx="284.8" cy="119.9" r="1.2"/><circle cx="293.8" cy="61.1" r="1.2"/><circle cx="282.9" cy="127.3" r="1.2"/><circle cx="276.2" cy="64.4" r="1.2"/><circle cx="273.7" cy="64.7" r="1.2"/><circle cx="283.4" cy="122.1" r="1.2"/><circle cx="286.4" cy="105.5" r="1.2"/><circle cx="277.7" cy="105.3" r="1.2"/><circle cx="274.4" cy="63.8" r="1.2"/><circle cx="277.4" cy="115.1" r="1.2"/><circle cx="280.2" cy="80.9" r="1.2"/><circle cx="277.2" cy="57.6" r="1.2"/><circle cx="288.5" cy="78.0" r="1.2"/><circle cx="277.6" cy="84.7" r="1.2"/><circle cx="278.4" cy="131.2" r="1.2"/><circle cx="281.2" cy="122.4" r="1.2"/><circle cx="280.6" cy="58.4" r="1.2"/><circle cx="286.3" cy="90.0" r="1.2"/><circle cx="286.7" cy="83.0" r="1.2"/><circle cx="276.1" cy="98.0" r="1.2"/><circle cx="276.8" cy="123.3" r="1.2"/><circle cx="277.2" cy="119.9" r="1.2"/><circle cx="276.1" cy="56.1" r="1.2"/><circle cx="287.0" cy="115.5" r="1.2"/><circle cx="282.6" cy="56.3" r="1.2"/><circle cx="286.6" cy="94.3" r="1.2"/><circle cx="282.9" cy="70.4" r="1.2"/><circle cx="290.2" cy="83.1" r="1.2"/><circle cx="296.4" cy="76.3" r="1.2"/><circle cx="276.1" cy="78.1" r="1.2"/><circle cx="280.7" cy="110.6" r="1.2"/><circle cx="286.7" cy="64.6" r="1.2"/><circle cx="291.3" cy="62.3" r="1.2"/><circle cx="285.0" cy="110.4" r="1.2"/><circle cx="278.6" cy="105.0" r="1.2"/><circle cx="278.7" cy="87.3" r="1.2"/><circle cx="276.9" cy="125.5" r="1.2"/><circle cx="276.7" cy="125.3" r="1.2"/><circle cx="277.3" cy="72.1" r="1.2"/><circle cx="279.5" cy="126.3" r="1.2"/><circle cx="290.8" cy="85.6" r="1.2"/><circle cx="282.0" cy="74.2" r="1.2"/><circle cx="285.5" cy="97.5" r="1.2"/><circle cx="282.4" cy="114.7" r="1.2"/><circle cx="277.8" cy="83.2" r="1.2"/><circle cx="293.3" cy="68.1" r="1.2"/><circle cx="284.6" cy="107.6" r="1.2"/><circle cx="281.4" cy="69.2" r="1.2"/><circle cx="281.3" cy="116.3" r="1.2"/><circle cx="281.9" cy="65.8" r="1.2"/><circle cx="277.7" cy="125.0" r="1.2"/><circle cx="278.1" cy="70.9" r="1.2"/><circle cx="285.9" cy="110.8" r="1.2"/><circle cx="275.3" cy="68.1" r="1.2"/><circle cx="278.7" cy="75.3" r="1.2"/><circle cx="275.2" cy="96.7" r="1.2"/><circle cx="275.5" cy="81.6" r="1.2"/><circle cx="279.1" cy="132.1" r="1.2"/><circle cx="297.1" cy="63.9" r="1.2"/><circle cx="280.0" cy="63.9" r="1.2"/><circle cx="279.0" cy="132.7" r="1.2"/><circle cx="279.8" cy="113.2" r="1.2"/><circle cx="286.9" cy="71.3" r="1.2"/><circle cx="276.2" cy="64.3" r="1.2"/><circle cx="273.4" cy="86.3" r="1.2"/><circle cx="287.7" cy="87.1" r="1.2"/><circle cx="280.7" cy="110.1" r="1.2"/><circle cx="280.2" cy="105.3" r="1.2"/><circle cx="285.8" cy="67.1" r="1.2"/><circle cx="286.3" cy="87.6" r="1.2"/><circle cx="278.9" cy="126.8" r="1.2"/><circle cx="285.2" cy="100.8" r="1.2"/><circle cx="275.7" cy="88.9" r="1.2"/><circle cx="286.2" cy="112.3" r="1.2"/><circle cx="282.9" cy="116.4" r="1.2"/><circle cx="281.8" cy="122.5" r="1.2"/><circle cx="280.1" cy="106.0" r="1.2"/><circle cx="285.4" cy="80.4" r="1.2"/><circle cx="280.8" cy="63.6" r="1.2"/><circle cx="282.9" cy="117.0" r="1.2"/><circle cx="277.3" cy="105.1" r="1.2"/><circle cx="279.6" cy="89.0" r="1.2"/><circle cx="279.3" cy="104.5" r="1.2"/><circle cx="287.8" cy="108.7" r="1.2"/><circle cx="287.4" cy="70.3" r="1.2"/><circle cx="279.1" cy="116.7" r="1.2"/><circle cx="250.1" cy="134.5" r="1.2"/><circle cx="223.3" cy="107.2" r="1.2"/><circle cx="244.0" cy="139.3" r="1.2"/><circle cx="249.1" cy="136.0" r="1.2"/><circle cx="248.5" cy="139.4" r="1.2"/><circle cx="245.3" cy="100.8" r="1.2"/><circle cx="233.0" cy="128.6" r="1.2"/><circle cx="248.2" cy="118.9" r="1.2"/><circle cx="249.3" cy="124.0" r="1.2"/><circle cx="248.7" cy="125.7" r="1.2"/><circle cx="246.5" cy="109.3" r="1.2"/><circle cx="223.2" cy="107.2" r="1.2"/><circle cx="229.1" cy="123.1" r="1.2"/><circle cx="237.1" cy="98.7" r="1.2"/><circle cx="237.1" cy="139.8" r="1.2"/><circle cx="246.5" cy="103.2" r="1.2"/><circle cx="238.2" cy="138.3" r="1.2"/><circle cx="249.4" cy="132.9" r="1.2"/><circle cx="236.8" cy="99.5" r="1.2"/><circle cx="227.1" cy="118.1" r="1.2"/><circle cx="245.7" cy="106.9" r="1.2"/><circle cx="221.7" cy="99.8" r="1.2"/><circle cx="245.7" cy="106.5" r="1.2"/><circle cx="248.3" cy="126.4" r="1.2"/><circle cx="249.2" cy="118.8" r="1.2"/><circle cx="229.1" cy="98.7" r="1.2"/><circle cx="231.3" cy="125.8" r="1.2"/><circle cx="238.4" cy="139.6" r="1.2"/><circle cx="222.9" cy="105.5" r="1.2"/><circle cx="233.9" cy="100.5" r="1.2"/><circle cx="230.4" cy="125.9" r="1.2"/><circle cx="225.1" cy="110.9" r="1.2"/><circle cx="224.4" cy="112.0" r="1.2"/><circle cx="236.8" cy="136.5" r="1.2"/><circle cx="228.2" cy="119.8" r="1.2"/><circle cx="250.2" cy="138.6" r="1.2"/><circle cx="225.2" cy="113.6" r="1.2"/><circle cx="246.5" cy="105.1" r="1.2"/><circle cx="228.0" cy="100.3" r="1.2"/><circle cx="248.9" cy="134.7" r="1.2"/><circle cx="228.2" cy="116.1" r="1.2"/><circle cx="248.6" cy="131.5" r="1.2"/><circle cx="227.1" cy="119.0" r="1.2"/><circle cx="224.0" cy="105.5" r="1.2"/><circle cx="239.0" cy="139.8" r="1.2"/><circle cx="235.7" cy="135.5" r="1.2"/><circle cx="221.3" cy="102.5" r="1.2"/><circle cx="226.5" cy="112.4" r="1.2"/><circle cx="246.9" cy="120.1" r="1.2"/><circle cx="231.2" cy="127.0" r="1.2"/><circle cx="247.5" cy="126.1" r="1.2"/><circle cx="247.0" cy="110.6" r="1.2"/><circle cx="249.9" cy="137.1" r="1.2"/><circle cx="221.6" cy="102.2" r="1.2"/><circle cx="246.9" cy="116.4" r="1.2"/><circle cx="242.9" cy="138.6" r="1.2"/><circle cx="226.0" cy="98.7" r="1.2"/><circle cx="222.9" cy="102.1" r="1.2"/><circle cx="240.4" cy="138.4" r="1.2"/><circle cx="224.0" cy="110.0" r="1.2"/><circle cx="238.7" cy="138.6" r="1.2"/><circle cx="235.4" cy="137.1" r="1.2"/><circle cx="249.6" cy="130.4" r="1.2"/><circle cx="244.4" cy="100.7" r="1.2"/><circle cx="224.2" cy="109.6" r="1.2"/><circle cx="228.7" cy="119.4" r="1.2"/><circle cx="245.9" cy="108.0" r="1.2"/><circle cx="245.9" cy="114.8" r="1.2"/><circle cx="224.9" cy="108.3" r="1.2"/><circle cx="227.3" cy="101.3" r="1.2"/><circle cx="245.9" cy="139.2" r="1.2"/><circle cx="222.4" cy="101.1" r="1.2"/><circle cx="224.7" cy="107.5" r="1.2"/><circle cx="249.7" cy="126.1" r="1.2"/><circle cx="245.7" cy="101.9" r="1.2"/><circle cx="221.9" cy="100.1" r="1.2"/><circle cx="224.1" cy="105.2" r="1.2"/><circle cx="238.1" cy="100.3" r="1.2"/><circle cx="245.9" cy="104.8" r="1.2"/><circle cx="227.7" cy="99.0" r="1.2"/><circle cx="226.9" cy="116.5" r="1.2"/><circle cx="238.6" cy="138.7" r="1.2"/><circle cx="223.9" cy="110.2" r="1.2"/><circle cx="233.6" cy="132.0" r="1.2"/><circle cx="236.5" cy="139.0" r="1.2"/><circle cx="246.8" cy="113.0" r="1.2"/><circle cx="226.4" cy="116.2" r="1.2"/><circle cx="247.1" cy="119.7" r="1.2"/><circle cx="236.2" cy="137.5" r="1.2"/><circle cx="247.1" cy="118.7" r="1.2"/><circle cx="247.8" cy="127.0" r="1.2"/><circle cx="223.7" cy="105.7" r="1.2"/><circle cx="248.6" cy="112.1" r="1.2"/><circle cx="234.4" cy="132.9" r="1.2"/><circle cx="243.0" cy="139.4" r="1.2"/><circle cx="224.7" cy="114.0" r="1.2"/><circle cx="243.2" cy="138.7" r="1.2"/><circle cx="247.1" cy="110.2" r="1.2"/><circle cx="247.7" cy="125.8" r="1.2"/><circle cx="227.1" cy="113.7" r="1.2"/><circle cx="229.7" cy="120.8" r="1.2"/><circle cx="247.2" cy="107.9" r="1.2"/><circle cx="235.6" cy="135.2" r="1.2"/><circle cx="230.3" cy="99.6" r="1.2"/><circle cx="245.4" cy="98.6" r="1.2"/><circle cx="245.0" cy="103.6" r="1.2"/><circle cx="259.7" cy="120.6" r="1.2"/><circle cx="273.8" cy="90.8" r="1.2"/><circle cx="274.4" cy="109.7" r="1.2"/><circle cx="261.8" cy="104.5" r="1.2"/><circle cx="274.7" cy="103.1" r="1.2"/><circle cx="276.9" cy="100.6" r="1.2"/><circle cx="278.0" cy="128.8" r="1.2"/><circle cx="260.8" cy="117.8" r="1.2"/><circle cx="277.2" cy="124.3" r="1.2"/><circle cx="269.9" cy="89.9" r="1.2"/><circle cx="272.4" cy="139.3" r="1.2"/><circle cx="258.3" cy="118.8" r="1.2"/><circle cx="260.7" cy="117.6" r="1.2"/><circle cx="277.5" cy="113.1" r="1.2"/><circle cx="275.1" cy="104.0" r="1.2"/><circle cx="264.5" cy="139.0" r="1.2"/><circle cx="264.3" cy="96.6" r="1.2"/><circle cx="264.2" cy="96.2" r="1.2"/><circle cx="258.8" cy="135.2" r="1.2"/><circle cx="276.5" cy="130.7" r="1.2"/><circle cx="264.8" cy="94.4" r="1.2"/><circle cx="268.9" cy="90.7" r="1.2"/><circle cx="264.4" cy="101.5" r="1.2"/><circle cx="270.3" cy="88.8" r="1.2"/><circle cx="258.0" cy="134.7" r="1.2"/><circle cx="274.2" cy="97.4" r="1.2"/><circle cx="257.8" cy="131.9" r="1.2"/><circle cx="260.2" cy="121.0" r="1.2"/><circle cx="277.8" cy="113.9" r="1.2"/><circle cx="274.7" cy="102.8" r="1.2"/><circle cx="259.4" cy="130.9" r="1.2"/><circle cx="277.0" cy="106.1" r="1.2"/><circle cx="277.1" cy="108.3" r="1.2"/><circle cx="263.4" cy="104.8" r="1.2"/><circle cx="274.8" cy="92.6" r="1.2"/><circle cx="256.8" cy="137.3" r="1.2"/><circle cx="260.0" cy="112.6" r="1.2"/><circle cx="274.2" cy="99.3" r="1.2"/><circle cx="258.3" cy="126.1" r="1.2"/><circle cx="262.4" cy="107.2" r="1.2"/><circle cx="274.2" cy="102.2" r="1.2"/><circle cx="277.9" cy="123.8" r="1.2"/><circle cx="277.9" cy="120.7" r="1.2"/><circle cx="265.8" cy="93.3" r="1.2"/><circle cx="258.2" cy="132.9" r="1.2"/><circle cx="277.9" cy="117.4" r="1.2"/><circle cx="280.0" cy="126.7" r="1.2"/><circle cx="264.1" cy="99.9" r="1.2"/><circle cx="264.2" cy="103.7" r="1.2"/><circle cx="278.0" cy="117.8" r="1.2"/><circle cx="260.4" cy="114.8" r="1.2"/><circle cx="264.7" cy="89.1" r="1.2"/><circle cx="273.4" cy="105.2" r="1.2"/><circle cx="275.2" cy="108.4" r="1.2"/><circle cx="275.0" cy="102.5" r="1.2"/><circle cx="275.5" cy="106.1" r="1.2"/><circle cx="256.7" cy="139.6" r="1.2"/><circle cx="274.4" cy="106.3" r="1.2"/><circle cx="260.3" cy="113.6" r="1.2"/><circle cx="272.3" cy="89.2" r="1.2"/><circle cx="260.3" cy="125.7" r="1.2"/><circle cx="278.3" cy="121.8" r="1.2"/><circle cx="273.9" cy="139.8" r="1.2"/><circle cx="274.7" cy="139.1" r="1.2"/><circle cx="275.4" cy="103.9" r="1.2"/><circle cx="273.8" cy="102.5" r="1.2"/><circle cx="263.7" cy="89.9" r="1.2"/><circle cx="261.4" cy="112.7" r="1.2"/><circle cx="257.7" cy="127.4" r="1.2"/><circle cx="273.2" cy="88.6" r="1.2"/><circle cx="270.9" cy="139.5" r="1.2"/><circle cx="275.9" cy="109.7" r="1.2"/><circle cx="276.9" cy="112.4" r="1.2"/><circle cx="273.2" cy="92.7" r="1.2"/><circle cx="265.4" cy="89.4" r="1.2"/><circle cx="268.2" cy="139.2" r="1.2"/><circle cx="262.4" cy="106.3" r="1.2"/><circle cx="272.8" cy="96.6" r="1.2"/><circle cx="278.5" cy="116.6" r="1.2"/><circle cx="272.7" cy="97.5" r="1.2"/><circle cx="273.0" cy="99.0" r="1.2"/><circle cx="275.4" cy="100.1" r="1.2"/><circle cx="275.7" cy="130.7" r="1.2"/><circle cx="259.7" cy="118.7" r="1.2"/><circle cx="275.4" cy="124.0" r="1.2"/><circle cx="261.8" cy="114.0" r="1.2"/><circle cx="262.8" cy="109.6" r="1.2"/><circle cx="264.8" cy="95.1" r="1.2"/><circle cx="276.0" cy="133.6" r="1.2"/><circle cx="271.1" cy="139.7" r="1.2"/><circle cx="264.5" cy="92.0" r="1.2"/><circle cx="258.2" cy="134.9" r="1.2"/><circle cx="263.9" cy="104.9" r="1.2"/><circle cx="277.4" cy="113.7" r="1.2"/><circle cx="266.8" cy="139.1" r="1.2"/><circle cx="275.9" cy="112.4" r="1.2"/><circle cx="263.9" cy="96.9" r="1.2"/><circle cx="258.5" cy="135.4" r="1.2"/><circle cx="263.6" cy="95.6" r="1.2"/><circle cx="275.1" cy="139.5" r="1.2"/><circle cx="274.2" cy="97.2" r="1.2"/><circle cx="276.6" cy="132.8" r="1.2"/><circle cx="210.6" cy="50.5" r="1.2"/><circle cx="210.2" cy="60.5" r="1.2"/><circle cx="212.0" cy="66.0" r="1.2"/><circle cx="214.5" cy="76.0" r="1.2"/><circle cx="216.5" cy="83.0" r="1.2"/><circle cx="213.8" cy="88.0" r="1.2"/><circle cx="257.7" cy="119.6" r="1.2"/><circle cx="283.5" cy="52.0" r="1.2"/><circle cx="292.6" cy="49.9" r="1.2"/><circle cx="298.8" cy="51.5" r="1.2"/><circle cx="296.0" cy="63.0" r="1.2"/><circle cx="289.0" cy="68.0" r="1.2"/><circle cx="301.0" cy="73.0" r="1.2"/><circle cx="286.0" cy="59.0" r="1.2"/><circle cx="291.0" cy="57.5" r="1.2"/></g>
<text x="186.00" y="155.60" font-size="8" text-anchor="end" fill="#383838">0</text>
<text x="186.00" y="130.00" font-size="8" text-anchor="end" fill="#383838">2.5</text>
<text x="186.00" y="104.40" font-size="8" text-anchor="end" fill="#383838">5</text>
<text x="186.00" y="78.80" font-size="8" text-anchor="end" fill="#383838">7.5</text>
<text x="186.00" y="53.20" font-size="8" text-anchor="end" fill="#383838">10</text>
<text x="189.20" y="169.60" font-size="8" fill="#383838" textLength="7.60" lengthAdjust="spacingAndGlyphs">−2</text>
<text x="217.80" y="169.60" font-size="8" fill="#383838" textLength="7.60" lengthAdjust="spacingAndGlyphs">−1</text>
<text x="254.70" y="169.60" font-size="8" text-anchor="middle" fill="#383838">0</text>
<text x="284.65" y="169.60" font-size="8" text-anchor="middle" fill="#383838">1</text>
<text x="314.60" y="169.60" font-size="8" text-anchor="middle" fill="#383838">2</text>
<line x1="194.80" y1="157.70" x2="194.80" y2="159.50" stroke="#555" stroke-width="0.6"/>
<line x1="224.75" y1="157.70" x2="224.75" y2="159.50" stroke="#555" stroke-width="0.6"/>
<line x1="254.70" y1="157.70" x2="254.70" y2="159.50" stroke="#555" stroke-width="0.6"/>
<line x1="284.65" y1="157.70" x2="284.65" y2="159.50" stroke="#555" stroke-width="0.6"/>
<line x1="314.60" y1="157.70" x2="314.60" y2="159.50" stroke="#555" stroke-width="0.6"/>
<line x1="188.00" y1="152.70" x2="189.80" y2="152.70" stroke="#555" stroke-width="0.6"/>
<line x1="188.00" y1="127.10" x2="189.80" y2="127.10" stroke="#555" stroke-width="0.6"/>
<line x1="188.00" y1="101.50" x2="189.80" y2="101.50" stroke="#555" stroke-width="0.6"/>
<line x1="188.00" y1="75.90" x2="189.80" y2="75.90" stroke="#555" stroke-width="0.6"/>
<line x1="188.00" y1="50.30" x2="189.80" y2="50.30" stroke="#555" stroke-width="0.6"/>
<text x="169.20" y="100.60" font-size="8.1" text-anchor="middle" textLength="83.00" lengthAdjust="spacingAndGlyphs" transform="rotate(-90 169.20 100.60)">-log10(adjusted p-value)</text>
<text x="256.70" y="182.30" font-size="8.4" text-anchor="middle" textLength="60.10" lengthAdjust="spacingAndGlyphs">log2(fold change)</text>
<text x="200.60" y="117.60" font-size="8" textLength="17.90" lengthAdjust="spacingAndGlyphs">1,496</text>
<text x="297.80" y="117.60" font-size="8" textLength="18.50" lengthAdjust="spacingAndGlyphs">1,827</text>
<text x="282.50" y="141.30" font-size="8" fill="#d0334d" textLength="32.30" lengthAdjust="spacingAndGlyphs">FDR=0.05</text>
<text x="282.50" y="150.50" font-size="8" fill="#d0334d" textLength="39.50" lengthAdjust="spacingAndGlyphs">3,323 genes</text>
<path d="M397.10 47.60V37.90H412.70V47.60" fill="none" stroke="#555555" stroke-width="0.8"/>
<path d="M381.50 47.60V36.30H404.90V37.90" fill="none" stroke="#555555" stroke-width="0.8"/>
<path d="M443.90 47.60V36.00H459.50V47.60" fill="none" stroke="#555555" stroke-width="0.8"/>
<path d="M428.30 47.60V32.10H451.70V36.00" fill="none" stroke="#555555" stroke-width="0.8"/>
<path d="M393.20 36.30V21.50H440.00V32.10" fill="none" stroke="#555555" stroke-width="0.8"/>
<rect x="373.70" y="47.90" width="46.80" height="4.80" fill="#c41f35"/>
<rect x="420.50" y="47.90" width="46.80" height="4.80" fill="#144f80"/>
<rect x="467.80" y="21.20" width="13.20" height="6.90" fill="#c41f35"/>
<rect x="467.80" y="31.90" width="13.20" height="6.90" fill="#144f80"/>
<text x="483.90" y="26.90" font-size="7" textLength="11.90" lengthAdjust="spacingAndGlyphs">Ren</text>
<text x="483.90" y="37.80" font-size="7" textLength="15.30" lengthAdjust="spacingAndGlyphs">Cux1</text>
<text x="499.60" y="35.00" font-size="3.6" textLength="6.50" lengthAdjust="spacingAndGlyphs">low</text>
<rect x="373.70" y="54.60" width="15.65" height="2.05" fill="#c01f24"/>
<rect x="373.70" y="56.60" width="15.65" height="2.05" fill="#d42b23"/>
<rect x="373.70" y="58.60" width="15.65" height="2.05" fill="#d32a23"/>
<rect x="373.70" y="60.60" width="15.65" height="1.35" fill="#df3623"/>
<rect x="373.70" y="61.90" width="15.65" height="2.55" fill="#e44225"/>
<rect x="373.70" y="64.40" width="15.65" height="1.35" fill="#dd3322"/>
<rect x="373.70" y="65.70" width="15.65" height="1.05" fill="#e13a24"/>
<rect x="373.70" y="66.70" width="15.65" height="2.55" fill="#dd3322"/>
<rect x="373.70" y="69.20" width="15.65" height="3.05" fill="#e54425"/>
<rect x="373.70" y="72.20" width="15.65" height="2.05" fill="#e54525"/>
<rect x="373.70" y="74.20" width="15.65" height="2.05" fill="#e44325"/>
<rect x="373.70" y="76.20" width="15.65" height="1.35" fill="#e64625"/>
<rect x="373.70" y="77.50" width="15.65" height="2.55" fill="#db3022"/>
<rect x="373.70" y="80.00" width="15.65" height="1.05" fill="#e03a23"/>
<rect x="373.70" y="81.00" width="15.65" height="1.05" fill="#e03823"/>
<rect x="373.70" y="82.00" width="15.65" height="1.05" fill="#de3423"/>
<rect x="373.70" y="83.00" width="15.65" height="2.05" fill="#e44125"/>
<rect x="373.70" y="85.00" width="15.65" height="1.35" fill="#dc3022"/>
<rect x="373.70" y="86.30" width="15.65" height="2.55" fill="#e13a24"/>
<rect x="373.70" y="88.80" width="15.65" height="1.05" fill="#dd3322"/>
<rect x="373.70" y="89.80" width="15.65" height="3.05" fill="#db3022"/>
<rect x="373.70" y="92.80" width="15.65" height="2.05" fill="#f2692f"/>
<rect x="373.70" y="94.80" width="15.65" height="2.55" fill="#ee5928"/>
<rect x="373.70" y="97.30" width="15.65" height="3.05" fill="#fec569"/>
<rect x="373.70" y="100.30" width="15.65" height="1.65" fill="#fec76b"/>
<rect x="373.70" y="101.90" width="15.65" height="1.65" fill="#febe61"/>
<rect x="373.70" y="103.50" width="15.65" height="1.05" fill="#feb659"/>
<rect x="373.70" y="104.50" width="15.65" height="2.05" fill="#febe60"/>
<rect x="373.70" y="106.50" width="15.65" height="1.05" fill="#febf62"/>
<rect x="373.70" y="107.50" width="15.65" height="1.05" fill="#fecc71"/>
<rect x="373.70" y="108.50" width="15.65" height="3.05" fill="#febe61"/>
<rect x="373.70" y="111.50" width="15.65" height="1.05" fill="#fec468"/>
<rect x="373.70" y="112.50" width="15.65" height="2.05" fill="#fecf74"/>
<rect x="373.70" y="114.50" width="15.65" height="2.05" fill="#feba5c"/>
<rect x="373.70" y="116.50" width="15.65" height="1.05" fill="#feca6f"/>
<rect x="373.70" y="117.50" width="15.65" height="3.05" fill="#fec76b"/>
<rect x="373.70" y="120.50" width="15.65" height="1.65" fill="#fec96d"/>
<rect x="373.70" y="122.10" width="15.65" height="1.05" fill="#febe60"/>
<rect x="373.70" y="123.10" width="15.65" height="2.05" fill="#fec468"/>
<rect x="373.70" y="125.10" width="15.65" height="1.35" fill="#fec96d"/>
<rect x="373.70" y="126.40" width="15.65" height="3.05" fill="#fee897"/>
<rect x="373.70" y="129.40" width="15.65" height="2.05" fill="#fee897"/>
<rect x="373.70" y="131.40" width="15.65" height="1.35" fill="#feb95b"/>
<rect x="373.70" y="132.70" width="15.65" height="2.55" fill="#febc5e"/>
<rect x="373.70" y="135.20" width="15.65" height="1.35" fill="#fca64d"/>
<rect x="373.70" y="136.50" width="15.65" height="2.05" fill="#feb85a"/>
<rect x="373.70" y="138.50" width="15.65" height="3.05" fill="#febd5f"/>
<rect x="373.70" y="141.50" width="15.65" height="1.35" fill="#fdb054"/>
<rect x="373.70" y="142.80" width="15.65" height="1.05" fill="#feb95b"/>
<rect x="373.70" y="143.80" width="15.65" height="2.55" fill="#fb9d46"/>
<rect x="373.70" y="146.30" width="15.65" height="1.65" fill="#fdb458"/>
<rect x="373.70" y="147.90" width="15.65" height="1.35" fill="#feb659"/>
<rect x="373.70" y="149.20" width="15.65" height="2.05" fill="#fca94f"/>
<rect x="373.70" y="151.20" width="15.65" height="2.55" fill="#feb659"/>
<rect x="373.70" y="153.70" width="15.65" height="1.05" fill="#fdb155"/>
<rect x="373.70" y="154.70" width="15.65" height="0.45" fill="#fdb558"/>
<rect x="389.30" y="54.60" width="15.65" height="1.65" fill="#f47633"/>
<rect x="389.30" y="56.20" width="15.65" height="1.65" fill="#f8883a"/>
<rect x="389.30" y="57.80" width="15.65" height="2.05" fill="#f78439"/>
<rect x="389.30" y="59.80" width="15.65" height="2.55" fill="#e74826"/>
<rect x="389.30" y="62.30" width="15.65" height="3.05" fill="#f8883a"/>
<rect x="389.30" y="65.30" width="15.65" height="1.65" fill="#f47634"/>
<rect x="389.30" y="66.90" width="15.65" height="2.55" fill="#fca34b"/>
<rect x="389.30" y="69.40" width="15.65" height="2.05" fill="#f67f37"/>
<rect x="389.30" y="71.40" width="15.65" height="2.55" fill="#f68037"/>
<rect x="389.30" y="73.90" width="15.65" height="3.05" fill="#ea4f27"/>
<rect x="389.30" y="76.90" width="15.65" height="1.35" fill="#ee5928"/>
<rect x="389.30" y="78.20" width="15.65" height="2.55" fill="#f8893a"/>
<rect x="389.30" y="80.70" width="15.65" height="1.35" fill="#fa933f"/>
<rect x="389.30" y="82.00" width="15.65" height="3.05" fill="#fb9842"/>
<rect x="389.30" y="85.00" width="15.65" height="2.55" fill="#f8873a"/>
<rect x="389.30" y="87.50" width="15.65" height="2.05" fill="#f37232"/>
<rect x="389.30" y="89.50" width="15.65" height="2.55" fill="#f98e3d"/>
<rect x="389.30" y="92.00" width="15.65" height="1.05" fill="#de3423"/>
<rect x="389.30" y="93.00" width="15.65" height="1.05" fill="#e23c24"/>
<rect x="389.30" y="94.00" width="15.65" height="3.05" fill="#df3623"/>
<rect x="389.30" y="97.00" width="15.65" height="3.05" fill="#e23d24"/>
<rect x="389.30" y="100.00" width="15.65" height="2.55" fill="#f36f31"/>
<rect x="389.30" y="102.50" width="15.65" height="2.05" fill="#f57a35"/>
<rect x="389.30" y="104.50" width="15.65" height="3.05" fill="#fdb055"/>
<rect x="389.30" y="107.50" width="15.65" height="1.05" fill="#fdae53"/>
<rect x="389.30" y="108.50" width="15.65" height="3.05" fill="#fdae53"/>
<rect x="389.30" y="111.50" width="15.65" height="2.55" fill="#febc5e"/>
<rect x="389.30" y="114.00" width="15.65" height="1.35" fill="#febb5d"/>
<rect x="389.30" y="115.30" width="15.65" height="3.05" fill="#fdae53"/>
<rect x="389.30" y="118.30" width="15.65" height="2.05" fill="#feb558"/>
<rect x="389.30" y="120.30" width="15.65" height="1.35" fill="#fdb055"/>
<rect x="389.30" y="121.60" width="15.65" height="1.65" fill="#fdb457"/>
<rect x="389.30" y="123.20" width="15.65" height="2.55" fill="#febb5d"/>
<rect x="389.30" y="125.70" width="15.65" height="1.65" fill="#feb85b"/>
<rect x="389.30" y="127.30" width="15.65" height="1.35" fill="#fca149"/>
<rect x="389.30" y="128.60" width="15.65" height="3.05" fill="#fec66a"/>
<rect x="389.30" y="131.60" width="15.65" height="3.05" fill="#fca64d"/>
<rect x="389.30" y="134.60" width="15.65" height="1.35" fill="#fdad52"/>
<rect x="389.30" y="135.90" width="15.65" height="2.55" fill="#fb9f48"/>
<rect x="389.30" y="138.40" width="15.65" height="1.65" fill="#fba149"/>
<rect x="389.30" y="140.00" width="15.65" height="3.05" fill="#fca24a"/>
<rect x="389.30" y="143.00" width="15.65" height="2.55" fill="#fb9f48"/>
<rect x="389.30" y="145.50" width="15.65" height="3.05" fill="#fb9e47"/>
<rect x="389.30" y="148.50" width="15.65" height="1.65" fill="#fb9f48"/>
<rect x="389.30" y="150.10" width="15.65" height="1.65" fill="#fb9f47"/>
<rect x="389.30" y="151.70" width="15.65" height="2.05" fill="#fb9e47"/>
<rect x="389.30" y="153.70" width="15.65" height="1.45" fill="#fca34b"/>
<rect x="404.90" y="54.60" width="15.65" height="3.05" fill="#f8863a"/>
<rect x="404.90" y="57.60" width="15.65" height="3.05" fill="#fa903d"/>
<rect x="404.90" y="60.60" width="15.65" height="1.65" fill="#fb9c46"/>
<rect x="404.90" y="62.20" width="15.65" height="1.65" fill="#f57c36"/>
<rect x="404.90" y="63.80" width="15.65" height="1.05" fill="#f78138"/>
<rect x="404.90" y="64.80" width="15.65" height="2.05" fill="#f88639"/>
<rect x="404.90" y="66.80" width="15.65" height="2.05" fill="#f88a3b"/>
<rect x="404.90" y="68.80" width="15.65" height="2.55" fill="#c12024"/>
<rect x="404.90" y="71.30" width="15.65" height="2.05" fill="#cb2623"/>
<rect x="404.90" y="73.30" width="15.65" height="2.55" fill="#e54325"/>
<rect x="404.90" y="75.80" width="15.65" height="1.05" fill="#e64725"/>
<rect x="404.90" y="76.80" width="15.65" height="3.05" fill="#e44125"/>
<rect x="404.90" y="79.80" width="15.65" height="2.05" fill="#e44225"/>
<rect x="404.90" y="81.80" width="15.65" height="3.05" fill="#eb5227"/>
<rect x="404.90" y="84.80" width="15.65" height="3.05" fill="#de3323"/>
<rect x="404.90" y="87.80" width="15.65" height="2.55" fill="#eb5127"/>
<rect x="404.90" y="90.30" width="15.65" height="2.55" fill="#e54425"/>
<rect x="404.90" y="92.80" width="15.65" height="1.05" fill="#f78439"/>
<rect x="404.90" y="93.80" width="15.65" height="1.65" fill="#f47633"/>
<rect x="404.90" y="95.40" width="15.65" height="2.55" fill="#f37132"/>
<rect x="404.90" y="97.90" width="15.65" height="3.05" fill="#f37232"/>
<rect x="404.90" y="100.90" width="15.65" height="1.05" fill="#f8873a"/>
<rect x="404.90" y="101.90" width="15.65" height="2.05" fill="#f47332"/>
<rect x="404.90" y="103.90" width="15.65" height="1.65" fill="#fba048"/>
<rect x="404.90" y="105.50" width="15.65" height="1.35" fill="#fdad52"/>
<rect x="404.90" y="106.80" width="15.65" height="3.05" fill="#fdb054"/>
<rect x="404.90" y="109.80" width="15.65" height="1.65" fill="#fdae53"/>
<rect x="404.90" y="111.40" width="15.65" height="3.05" fill="#fb9d46"/>
<rect x="404.90" y="114.40" width="15.65" height="1.35" fill="#fdac51"/>
<rect x="404.90" y="115.70" width="15.65" height="1.65" fill="#fdad52"/>
<rect x="404.90" y="117.30" width="15.65" height="3.05" fill="#fca34b"/>
<rect x="404.90" y="120.30" width="15.65" height="2.05" fill="#fca24a"/>
<rect x="404.90" y="122.30" width="15.65" height="1.35" fill="#feb659"/>
<rect x="404.90" y="123.60" width="15.65" height="1.35" fill="#fdb055"/>
<rect x="404.90" y="124.90" width="15.65" height="1.65" fill="#fb9f47"/>
<rect x="404.90" y="126.50" width="15.65" height="1.35" fill="#fba048"/>
<rect x="404.90" y="127.80" width="15.65" height="1.05" fill="#fb9f47"/>
<rect x="404.90" y="128.80" width="15.65" height="3.05" fill="#f98d3c"/>
<rect x="404.90" y="131.80" width="15.65" height="1.35" fill="#fed47a"/>
<rect x="404.90" y="133.10" width="15.65" height="1.05" fill="#fee38e"/>
<rect x="404.90" y="134.10" width="15.65" height="1.35" fill="#fedc83"/>
<rect x="404.90" y="135.40" width="15.65" height="2.05" fill="#fee48f"/>
<rect x="404.90" y="137.40" width="15.65" height="3.05" fill="#fed77d"/>
<rect x="404.90" y="140.40" width="15.65" height="1.65" fill="#fee18a"/>
<rect x="404.90" y="142.00" width="15.65" height="2.55" fill="#fed379"/>
<rect x="404.90" y="144.50" width="15.65" height="2.05" fill="#fec96d"/>
<rect x="404.90" y="146.50" width="15.65" height="1.65" fill="#fdb256"/>
<rect x="404.90" y="148.10" width="15.65" height="2.55" fill="#fdb357"/>
<rect x="404.90" y="150.60" width="15.65" height="2.55" fill="#febe61"/>
<rect x="404.90" y="153.10" width="15.65" height="1.65" fill="#fec76c"/>
<rect x="404.90" y="154.70" width="15.65" height="0.45" fill="#fdb256"/>
<rect x="420.50" y="54.60" width="15.65" height="3.05" fill="#fec66a"/>
<rect x="420.50" y="57.60" width="15.65" height="1.05" fill="#fec569"/>
<rect x="420.50" y="58.60" width="15.65" height="1.65" fill="#fecd72"/>
<rect x="420.50" y="60.20" width="15.65" height="1.05" fill="#fee38d"/>
<rect x="420.50" y="61.20" width="15.65" height="3.05" fill="#fee48f"/>
<rect x="420.50" y="64.20" width="15.65" height="2.55" fill="#fee490"/>
<rect x="420.50" y="66.70" width="15.65" height="3.05" fill="#fb9e47"/>
<rect x="420.50" y="69.70" width="15.65" height="1.05" fill="#fb9f48"/>
<rect x="420.50" y="70.70" width="15.65" height="3.05" fill="#fa923e"/>
<rect x="420.50" y="73.70" width="15.65" height="1.65" fill="#f78238"/>
<rect x="420.50" y="75.30" width="15.65" height="1.35" fill="#fece73"/>
<rect x="420.50" y="76.60" width="15.65" height="2.55" fill="#fed980"/>
<rect x="420.50" y="79.10" width="15.65" height="3.05" fill="#fec467"/>
<rect x="420.50" y="82.10" width="15.65" height="1.65" fill="#fec96d"/>
<rect x="420.50" y="83.70" width="15.65" height="2.55" fill="#fece73"/>
<rect x="420.50" y="86.20" width="15.65" height="2.55" fill="#fed57b"/>
<rect x="420.50" y="88.70" width="15.65" height="1.35" fill="#fed77d"/>
<rect x="420.50" y="90.00" width="15.65" height="1.35" fill="#fec063"/>
<rect x="420.50" y="91.30" width="15.65" height="1.05" fill="#feda82"/>
<rect x="420.50" y="92.30" width="15.65" height="2.05" fill="#fec063"/>
<rect x="420.50" y="94.30" width="15.65" height="1.35" fill="#fee896"/>
<rect x="420.50" y="95.60" width="15.65" height="1.05" fill="#fee38e"/>
<rect x="420.50" y="96.60" width="15.65" height="2.05" fill="#ffec9e"/>
<rect x="420.50" y="98.60" width="15.65" height="2.55" fill="#fee794"/>
<rect x="420.50" y="101.10" width="15.65" height="1.65" fill="#c32124"/>
<rect x="420.50" y="102.70" width="15.65" height="1.35" fill="#c01f24"/>
<rect x="420.50" y="104.00" width="15.65" height="1.05" fill="#c12024"/>
<rect x="420.50" y="105.00" width="15.65" height="3.05" fill="#c42224"/>
<rect x="420.50" y="108.00" width="15.65" height="3.05" fill="#bf1f24"/>
<rect x="420.50" y="111.00" width="15.65" height="2.05" fill="#bf1f24"/>
<rect x="420.50" y="113.00" width="15.65" height="1.05" fill="#be1e24"/>
<rect x="420.50" y="114.00" width="15.65" height="1.65" fill="#da2f22"/>
<rect x="420.50" y="115.60" width="15.65" height="1.65" fill="#cd2723"/>
<rect x="420.50" y="117.20" width="15.65" height="1.65" fill="#df3623"/>
<rect x="420.50" y="118.80" width="15.65" height="2.55" fill="#d22a23"/>
<rect x="420.50" y="121.30" width="15.65" height="2.55" fill="#d52c22"/>
<rect x="420.50" y="123.80" width="15.65" height="2.05" fill="#d82e22"/>
<rect x="420.50" y="125.80" width="15.65" height="1.05" fill="#df3723"/>
<rect x="420.50" y="126.80" width="15.65" height="1.35" fill="#d82e22"/>
<rect x="420.50" y="128.10" width="15.65" height="1.05" fill="#db3022"/>
<rect x="420.50" y="129.10" width="15.65" height="1.35" fill="#e13a24"/>
<rect x="420.50" y="130.40" width="15.65" height="1.35" fill="#db3022"/>
<rect x="420.50" y="131.70" width="15.65" height="2.05" fill="#d42b23"/>
<rect x="420.50" y="133.70" width="15.65" height="3.05" fill="#e94d26"/>
<rect x="420.50" y="136.70" width="15.65" height="2.55" fill="#ea4e27"/>
<rect x="420.50" y="139.20" width="15.65" height="2.05" fill="#f1672e"/>
<rect x="420.50" y="141.20" width="15.65" height="2.55" fill="#eb5227"/>
<rect x="420.50" y="143.70" width="15.65" height="1.35" fill="#ee5728"/>
<rect x="420.50" y="145.00" width="15.65" height="2.05" fill="#f0602b"/>
<rect x="420.50" y="147.00" width="15.65" height="3.05" fill="#ee5728"/>
<rect x="420.50" y="150.00" width="15.65" height="2.55" fill="#f0602b"/>
<rect x="420.50" y="152.50" width="15.65" height="2.55" fill="#f0622c"/>
<rect x="420.50" y="155.00" width="15.65" height="0.15" fill="#ee5a29"/>
<rect x="436.10" y="54.60" width="15.65" height="2.55" fill="#fdad52"/>
<rect x="436.10" y="57.10" width="15.65" height="1.35" fill="#feb85a"/>
<rect x="436.10" y="58.40" width="15.65" height="2.55" fill="#fdb155"/>
<rect x="436.10" y="60.90" width="15.65" height="2.55" fill="#fec96d"/>
<rect x="436.10" y="63.40" width="15.65" height="2.05" fill="#febd5f"/>
<rect x="436.10" y="65.40" width="15.65" height="2.55" fill="#fec76b"/>
<rect x="436.10" y="67.90" width="15.65" height="2.05" fill="#fec76b"/>
<rect x="436.10" y="69.90" width="15.65" height="1.05" fill="#fee089"/>
<rect x="436.10" y="70.90" width="15.65" height="2.05" fill="#fedf87"/>
<rect x="436.10" y="72.90" width="15.65" height="2.55" fill="#feda82"/>
<rect x="436.10" y="75.40" width="15.65" height="2.05" fill="#fee693"/>
<rect x="436.10" y="77.40" width="15.65" height="1.05" fill="#fedf87"/>
<rect x="436.10" y="78.40" width="15.65" height="2.55" fill="#fee189"/>
<rect x="436.10" y="80.90" width="15.65" height="2.05" fill="#feeb9c"/>
<rect x="436.10" y="82.90" width="15.65" height="2.05" fill="#fed278"/>
<rect x="436.10" y="84.90" width="15.65" height="1.65" fill="#fede86"/>
<rect x="436.10" y="86.50" width="15.65" height="1.65" fill="#fed37a"/>
<rect x="436.10" y="88.10" width="15.65" height="2.05" fill="#fecd72"/>
<rect x="436.10" y="90.10" width="15.65" height="2.05" fill="#fee794"/>
<rect x="436.10" y="92.10" width="15.65" height="2.55" fill="#fdb356"/>
<rect x="436.10" y="94.60" width="15.65" height="2.55" fill="#fcaa50"/>
<rect x="436.10" y="97.10" width="15.65" height="1.05" fill="#fdab51"/>
<rect x="436.10" y="98.10" width="15.65" height="1.05" fill="#fdb256"/>
<rect x="436.10" y="99.10" width="15.65" height="1.05" fill="#fdae53"/>
<rect x="436.10" y="100.10" width="15.65" height="3.05" fill="#fcaa50"/>
<rect x="436.10" y="103.10" width="15.65" height="1.65" fill="#fdb457"/>
<rect x="436.10" y="104.70" width="15.65" height="2.55" fill="#f47533"/>
<rect x="436.10" y="107.20" width="15.65" height="2.05" fill="#f36f31"/>
<rect x="436.10" y="109.20" width="15.65" height="1.05" fill="#f47332"/>
<rect x="436.10" y="110.20" width="15.65" height="2.55" fill="#eb5227"/>
<rect x="436.10" y="112.70" width="15.65" height="3.05" fill="#eb5227"/>
<rect x="436.10" y="115.70" width="15.65" height="2.55" fill="#e64525"/>
<rect x="436.10" y="118.20" width="15.65" height="3.05" fill="#e74826"/>
<rect x="436.10" y="121.20" width="15.65" height="2.05" fill="#e44125"/>
<rect x="436.10" y="123.20" width="15.65" height="2.55" fill="#ec5327"/>
<rect x="436.10" y="125.70" width="15.65" height="1.35" fill="#e33f24"/>
<rect x="436.10" y="127.00" width="15.65" height="1.35" fill="#ea5027"/>
<rect x="436.10" y="128.30" width="15.65" height="2.55" fill="#e54425"/>
<rect x="436.10" y="130.80" width="15.65" height="2.55" fill="#ed5628"/>
<rect x="436.10" y="133.30" width="15.65" height="1.35" fill="#f0642d"/>
<rect x="436.10" y="134.60" width="15.65" height="1.65" fill="#eb5227"/>
<rect x="436.10" y="136.20" width="15.65" height="1.35" fill="#f26b2f"/>
<rect x="436.10" y="137.50" width="15.65" height="1.35" fill="#ef5b29"/>
<rect x="436.10" y="138.80" width="15.65" height="1.35" fill="#cd2723"/>
<rect x="436.10" y="140.10" width="15.65" height="1.05" fill="#d12923"/>
<rect x="436.10" y="141.10" width="15.65" height="1.35" fill="#cc2623"/>
<rect x="436.10" y="142.40" width="15.65" height="1.05" fill="#cf2823"/>
<rect x="436.10" y="143.40" width="15.65" height="1.65" fill="#d12a23"/>
<rect x="436.10" y="145.00" width="15.65" height="2.05" fill="#cb2623"/>
<rect x="436.10" y="147.00" width="15.65" height="2.55" fill="#cd2723"/>
<rect x="436.10" y="149.50" width="15.65" height="2.05" fill="#d02923"/>
<rect x="436.10" y="151.50" width="15.65" height="3.05" fill="#ce2823"/>
<rect x="436.10" y="154.50" width="15.65" height="0.65" fill="#cf2823"/>
<rect x="451.70" y="54.60" width="15.65" height="2.55" fill="#f8893b"/>
<rect x="451.70" y="57.10" width="15.65" height="1.65" fill="#fa9641"/>
<rect x="451.70" y="58.70" width="15.65" height="1.05" fill="#f78238"/>
<rect x="451.70" y="59.70" width="15.65" height="1.65" fill="#fdb458"/>
<rect x="451.70" y="61.30" width="15.65" height="2.55" fill="#fa9540"/>
<rect x="451.70" y="63.80" width="15.65" height="1.05" fill="#fca74e"/>
<rect x="451.70" y="64.80" width="15.65" height="2.05" fill="#fca54c"/>
<rect x="451.70" y="66.80" width="15.65" height="2.55" fill="#fca54d"/>
<rect x="451.70" y="69.30" width="15.65" height="2.55" fill="#febf62"/>
<rect x="451.70" y="71.80" width="15.65" height="1.35" fill="#fdb458"/>
<rect x="451.70" y="73.10" width="15.65" height="1.35" fill="#fdb055"/>
<rect x="451.70" y="74.40" width="15.65" height="1.35" fill="#fdad52"/>
<rect x="451.70" y="75.70" width="15.65" height="1.65" fill="#fdaf54"/>
<rect x="451.70" y="77.30" width="15.65" height="1.05" fill="#fdb558"/>
<rect x="451.70" y="78.30" width="15.65" height="1.35" fill="#fca94f"/>
<rect x="451.70" y="79.60" width="15.65" height="1.05" fill="#feb659"/>
<rect x="451.70" y="80.60" width="15.65" height="1.65" fill="#febb5d"/>
<rect x="451.70" y="82.20" width="15.65" height="1.65" fill="#fdad52"/>
<rect x="451.70" y="83.80" width="15.65" height="2.05" fill="#fdb155"/>
<rect x="451.70" y="85.80" width="15.65" height="3.05" fill="#fcaa50"/>
<rect x="451.70" y="88.80" width="15.65" height="3.05" fill="#fdad52"/>
<rect x="451.70" y="91.80" width="15.65" height="2.05" fill="#fec063"/>
<rect x="451.70" y="93.80" width="15.65" height="2.05" fill="#fec76b"/>
<rect x="451.70" y="95.80" width="15.65" height="1.35" fill="#febb5d"/>
<rect x="451.70" y="97.10" width="15.65" height="2.55" fill="#febc5e"/>
<rect x="451.70" y="99.60" width="15.65" height="1.05" fill="#feb85b"/>
<rect x="451.70" y="100.60" width="15.65" height="1.65" fill="#fdb458"/>
<rect x="451.70" y="102.20" width="15.65" height="3.05" fill="#fecc71"/>
<rect x="451.70" y="105.20" width="15.65" height="3.05" fill="#fb9843"/>
<rect x="451.70" y="108.20" width="15.65" height="1.35" fill="#fca94f"/>
<rect x="451.70" y="109.50" width="15.65" height="2.55" fill="#fdac51"/>
<rect x="451.70" y="112.00" width="15.65" height="1.65" fill="#fca84f"/>
<rect x="451.70" y="113.60" width="15.65" height="1.65" fill="#fa9741"/>
<rect x="451.70" y="115.20" width="15.65" height="1.35" fill="#feb85b"/>
<rect x="451.70" y="116.50" width="15.65" height="2.05" fill="#fcaa50"/>
<rect x="451.70" y="118.50" width="15.65" height="2.55" fill="#fcaa50"/>
<rect x="451.70" y="121.00" width="15.65" height="3.05" fill="#feb75a"/>
<rect x="451.70" y="124.00" width="15.65" height="1.35" fill="#fca94f"/>
<rect x="451.70" y="125.30" width="15.65" height="2.05" fill="#fdae53"/>
<rect x="451.70" y="127.30" width="15.65" height="1.65" fill="#fcaa50"/>
<rect x="451.70" y="128.90" width="15.65" height="1.65" fill="#fdb156"/>
<rect x="451.70" y="130.50" width="15.65" height="1.65" fill="#dd3222"/>
<rect x="451.70" y="132.10" width="15.65" height="3.05" fill="#dc3022"/>
<rect x="451.70" y="135.10" width="15.65" height="1.65" fill="#de3423"/>
<rect x="451.70" y="136.70" width="15.65" height="3.05" fill="#de3423"/>
<rect x="451.70" y="139.70" width="15.65" height="2.05" fill="#d92e22"/>
<rect x="451.70" y="141.70" width="15.65" height="2.55" fill="#f8873a"/>
<rect x="451.70" y="144.20" width="15.65" height="2.55" fill="#f78439"/>
<rect x="451.70" y="146.70" width="15.65" height="2.05" fill="#fa9541"/>
<rect x="451.70" y="148.70" width="15.65" height="2.05" fill="#fb9842"/>
<rect x="451.70" y="150.70" width="15.65" height="2.55" fill="#f47633"/>
<rect x="451.70" y="153.20" width="15.65" height="1.95" fill="#f8873a"/>
<rect x="476.60" y="52.80" width="6.70" height="16.60" fill="#cd2723"/>
<rect x="476.60" y="69.32" width="6.70" height="16.60" fill="#e54425"/>
<rect x="476.60" y="85.84" width="6.70" height="16.60" fill="#f47533"/>
<rect x="476.60" y="102.36" width="6.70" height="16.60" fill="#fca64d"/>
<rect x="476.60" y="118.88" width="6.70" height="16.60" fill="#fecd72"/>
<rect x="476.60" y="135.40" width="6.70" height="16.60" fill="#ffec9e"/>
<text x="486.40" y="57.50" font-size="8">2</text>
<text x="486.40" y="81.58" font-size="8">1</text>
<text x="486.40" y="105.66" font-size="8">0</text>
<text x="486.40" y="129.74" font-size="8">−1</text>
<text x="486.40" y="153.82" font-size="8">−2</text>
<text x="499.00" y="101.30" font-size="8.4" text-anchor="middle" textLength="59.80" lengthAdjust="spacingAndGlyphs" transform="rotate(90 499.00 101.30)">Expression Z-score</text>
<text x="378.90" y="158.30" font-size="8" textLength="34.80" lengthAdjust="spacingAndGlyphs" transform="rotate(90 378.90 158.30)">Ren Rep 3</text>
<text x="394.50" y="158.30" font-size="8" textLength="34.80" lengthAdjust="spacingAndGlyphs" transform="rotate(90 394.50 158.30)">Ren Rep 1</text>
<text x="410.10" y="158.30" font-size="8" textLength="34.80" lengthAdjust="spacingAndGlyphs" transform="rotate(90 410.10 158.30)">Ren Rep 2</text>
<text x="425.70" y="158.30" font-size="8" transform="rotate(90 425.70 158.30)">Cux1<tspan font-size="4" dy="-2">low</tspan><tspan dy="2"> Rep 3</tspan></text>
<text x="441.30" y="158.30" font-size="8" transform="rotate(90 441.30 158.30)">Cux1<tspan font-size="4" dy="-2">low</tspan><tspan dy="2"> Rep 2</tspan></text>
<text x="456.90" y="158.30" font-size="8" transform="rotate(90 456.90 158.30)">Cux1<tspan font-size="4" dy="-2">low</tspan><tspan dy="2"> Rep 1</tspan></text>
<path d="M373.4 54.8H365.1V55.1H373.4M373.4 56.1H366.4V56.4H373.4M373.4 55.8H366.1V56.3H366.4M373.4 57.1H365.2V57.4H373.4M373.4 56.8H364.8V57.3H365.2M366.1 56.0H364.5V57.0H364.8M373.4 55.4H362.5V56.5H364.5M373.4 57.8H366.3V58.1H373.4M362.5 56.0H362.2V58.0H366.3M373.4 59.5H365.3V59.8H373.4M373.4 59.1H365.0V59.6H365.3M373.4 58.8H363.3V59.4H365.0M363.3 59.1H363.0V60.1H373.4M373.4 58.5H362.7V59.6H363.0M362.2 57.0H361.9V59.0H362.7M365.1 54.9H358.5V58.0H361.9M373.4 60.5H367.5V60.8H373.4M367.5 60.6H366.5V61.1H373.4M366.5 60.9H366.2V61.5H373.4M358.5 56.5H358.2V61.2H366.2M373.4 61.8H366.3V62.1H373.4M373.4 62.8H365.5V63.1H373.4M373.4 63.5H367.4V63.8H373.4M365.5 63.0H365.2V63.6H367.4M373.4 64.1H364.9V64.5H373.4M364.9 64.3H364.6V64.8H373.4M365.2 63.3H362.7V64.6H364.6M373.4 62.5H361.8V63.9H362.7M366.3 62.0H361.5V63.2H361.8M358.2 58.8H357.1V62.6H361.5M373.4 65.2H368.6V65.5H373.4M373.4 66.5H367.9V66.8H373.4M373.4 66.2H364.9V66.7H367.9M373.4 65.8H363.4V66.4H364.9M368.6 65.3H362.2V66.1H363.4M357.1 60.7H356.8V65.7H362.2M373.4 67.2H365.8V67.5H373.4M365.8 67.3H364.7V67.8H373.4M373.4 68.2H368.5V68.5H373.4M364.7 67.6H362.7V68.3H368.5M373.4 68.8H366.3V69.2H373.4M373.4 69.5H366.6V69.8H373.4M373.4 70.8H368.3V71.2H373.4M373.4 70.5H367.4V71.0H368.3M373.4 70.2H364.5V70.8H367.4M366.6 69.7H361.9V70.5H364.5M361.9 70.1H361.6V71.5H373.4M366.3 69.0H361.3V70.8H361.6M362.7 68.0H359.0V69.9H361.3M356.8 63.2H356.5V68.9H359.0M373.4 71.9H366.9V72.2H373.4M366.9 72.0H366.3V72.5H373.4M373.4 73.5H368.1V73.9H373.4M373.4 74.2H365.0V74.5H373.4M368.1 73.7H364.7V74.4H365.0M373.4 73.2H363.5V74.0H364.7M363.5 73.6H363.2V74.9H373.4M373.4 72.9H362.9V74.2H363.2M366.3 72.3H362.6V73.5H362.9M373.4 75.2H365.4V75.5H373.4M373.4 75.9H366.9V76.2H373.4M365.4 75.4H365.1V76.0H366.9M373.4 76.5H367.1V76.9H373.4M373.4 77.5H364.9V77.9H373.4M373.4 77.2H364.0V77.7H364.9M367.1 76.7H363.7V77.5H364.0M373.4 78.2H367.3V78.6H373.4M363.7 77.1H363.4V78.4H367.3M365.1 75.7H363.1V77.7H363.4M373.4 78.9H367.2V79.2H373.4M367.2 79.1H364.7V79.6H373.4M363.1 76.7H360.4V79.3H364.7M362.6 72.9H358.9V78.0H360.4M356.5 66.1H354.0V75.5H358.9M373.4 80.2H366.0V80.6H373.4M373.4 79.9H365.7V80.4H366.0M373.4 80.9H366.5V81.2H373.4M366.5 81.1H366.2V81.6H373.4M373.4 81.9H366.9V82.2H373.4M366.2 81.3H363.3V82.1H366.9M363.3 81.7H363.0V82.6H373.4M365.7 80.1H361.7V82.1H363.0M373.4 82.9H365.8V83.2H373.4M373.4 83.6H365.4V83.9H373.4M365.4 83.7H364.4V84.2H373.4M365.8 83.1H363.9V84.0H364.4M361.7 81.1H359.1V83.5H363.9M373.4 84.9H366.0V85.3H373.4M366.0 85.1H365.0V85.6H373.4M365.0 85.3H364.3V85.9H373.4M373.4 84.6H364.0V85.6H364.3M373.4 86.3H367.0V86.6H373.4M373.4 86.9H365.7V87.3H373.4M367.0 86.4H364.7V87.1H365.7M364.7 86.8H363.8V87.6H373.4M364.0 85.1H363.5V87.2H363.8M373.4 87.9H366.2V88.3H373.4M373.4 88.6H366.2V88.9H373.4M373.4 89.6H368.4V89.9H373.4M373.4 90.3H367.4V90.6H373.4M368.4 89.8H366.8V90.4H367.4M373.4 89.3H366.3V90.1H366.8M366.2 88.8H365.9V89.7H366.3M366.2 88.1H363.6V89.2H365.9M363.5 86.1H362.0V88.7H363.6M373.4 90.9H367.7V91.3H373.4M367.7 91.1H364.3V91.6H373.4M362.0 87.4H361.7V91.4H364.3M359.1 82.3H358.8V89.4H361.7M373.4 92.0H365.5V92.3H373.4M373.4 93.0H366.3V93.3H373.4M373.4 92.6H366.0V93.1H366.3M365.5 92.1H364.6V92.9H366.0M373.4 93.6H365.5V94.0H373.4M373.4 94.3H365.5V94.6H373.4M365.5 93.8H364.7V94.5H365.5M373.4 95.0H366.4V95.3H373.4M373.4 95.6H365.0V96.0H373.4M373.4 96.3H367.3V96.6H373.4M365.0 95.8H363.6V96.5H367.3M366.4 95.1H363.3V96.1H363.6M364.7 94.1H363.0V95.6H363.3M364.6 92.5H361.5V94.9H363.0M358.8 85.9H356.3V93.7H361.5M354.0 70.8H353.7V89.8H356.3M373.4 97.3H365.0V97.6H373.4M365.0 97.5H364.2V98.0H373.4M373.4 97.0H363.9V97.7H364.2M373.4 98.3H367.0V98.7H373.4M367.0 98.5H366.7V99.0H373.4M373.4 99.7H368.1V100.0H373.4M373.4 99.3H365.4V99.8H368.1M373.4 100.3H365.7V100.7H373.4M373.4 101.0H368.6V101.3H373.4M365.7 100.5H365.2V101.2H368.6M365.4 99.6H364.9V100.8H365.2M364.9 100.2H361.3V101.7H373.4M366.7 98.7H361.0V100.9H361.3M363.9 97.4H360.7V99.8H361.0M373.4 102.7H366.2V103.0H373.4M366.2 102.8H365.5V103.3H373.4M373.4 102.3H364.2V103.1H365.5M364.2 102.7H363.9V103.7H373.4M373.4 102.0H363.1V103.2H363.9M373.4 104.3H366.6V104.7H373.4M373.4 104.0H366.1V104.5H366.6M373.4 105.0H365.8V105.4H373.4M366.1 104.3H364.4V105.2H365.8M373.4 106.0H365.2V106.4H373.4M373.4 106.7H365.7V107.0H373.4M373.4 107.4H366.4V107.7H373.4M365.7 106.9H364.4V107.5H366.4M364.4 107.2H364.1V108.0H373.4M365.2 106.2H363.8V107.6H364.1M373.4 105.7H361.4V106.9H363.8M364.4 104.7H361.1V106.3H361.4M363.1 102.6H360.8V105.5H361.1M360.7 98.6H356.2V104.1H360.8M373.4 108.7H366.0V109.0H373.4M373.4 108.4H365.7V108.9H366.0M365.7 108.6H365.4V109.4H373.4M373.4 110.0H366.7V110.4H373.4M373.4 110.7H368.0V111.0H373.4M366.7 110.2H365.0V110.9H368.0M373.4 109.7H363.3V110.5H365.0M363.3 110.1H363.0V111.4H373.4M373.4 112.1H365.6V112.4H373.4M373.4 111.7H365.3V112.2H365.6M363.0 110.8H362.7V112.0H365.3M365.4 109.0H360.9V111.4H362.7M373.4 112.7H366.2V113.1H373.4M366.2 112.9H364.0V113.4H373.4M373.4 113.7H365.1V114.1H373.4M373.4 114.4H367.0V114.7H373.4M373.4 115.7H367.2V116.1H373.4M373.4 115.4H366.9V115.9H367.2M373.4 116.4H366.4V116.7H373.4M366.9 115.7H363.7V116.6H366.4M373.4 115.1H362.5V116.1H363.7M367.0 114.6H362.2V115.6H362.5M365.1 113.9H361.9V115.1H362.2M373.4 117.1H366.8V117.4H373.4M373.4 117.7H368.4V118.1H373.4M368.4 117.9H365.1V118.4H373.4M366.8 117.2H364.8V118.2H365.1M361.9 114.5H361.0V117.7H364.8M364.0 113.1H360.7V116.1H361.0M373.4 118.8H366.5V119.1H373.4M373.4 119.4H365.8V119.8H373.4M366.5 118.9H365.3V119.6H365.8M373.4 120.4H367.2V120.8H373.4M373.4 120.1H365.0V120.6H367.2M365.3 119.3H364.7V120.3H365.0M373.4 121.1H366.1V121.4H373.4M364.7 119.8H364.4V121.3H366.1M360.7 114.6H358.6V120.5H364.4M373.4 122.4H367.7V122.8H373.4M373.4 122.1H364.4V122.6H367.7M373.4 121.8H364.1V122.4H364.4M358.6 117.6H358.3V122.1H364.1M373.4 123.4H368.0V123.8H373.4M368.0 123.6H364.0V124.1H373.4M373.4 123.1H363.7V123.9H364.0M363.7 123.5H363.4V124.4H373.4M358.3 119.8H358.0V124.0H363.4M360.9 110.2H353.3V121.9H358.0M356.2 101.3H353.0V116.0H353.3M373.4 124.8H367.7V125.1H373.4M373.4 125.5H366.3V125.8H373.4M367.7 125.0H366.0V125.6H366.3M373.4 126.5H367.0V126.8H373.4M367.0 126.6H364.5V127.1H373.4M364.5 126.9H364.2V127.5H373.4M373.4 126.1H363.9V127.2H364.2M373.4 128.1H368.5V128.5H373.4M373.4 127.8H367.2V128.3H368.5M367.2 128.0H366.9V128.8H373.4M373.4 129.1H365.7V129.5H373.4M365.7 129.3H365.4V129.8H373.4M366.9 128.4H364.2V129.6H365.4M363.9 126.6H360.2V129.0H364.2M366.0 125.3H359.9V127.8H360.2M373.4 130.1H368.2V130.5H373.4M373.4 131.1H367.2V131.5H373.4M373.4 130.8H366.4V131.3H367.2M368.2 130.3H363.0V131.1H366.4M359.9 126.6H359.6V130.7H363.0M353.0 108.7H352.7V128.6H359.6M373.4 131.8H366.8V132.2H373.4M373.4 132.8H365.1V133.2H373.4M365.1 133.0H364.8V133.5H373.4M373.4 132.5H364.5V133.2H364.8M366.8 132.0H364.2V132.9H364.5M373.4 133.8H366.1V134.2H373.4M366.1 134.0H365.0V134.5H373.4M373.4 135.2H367.7V135.5H373.4M373.4 134.8H367.4V135.3H367.7M373.4 135.8H367.4V136.2H373.4M367.4 136.0H366.1V136.5H373.4M373.4 136.8H365.9V137.2H373.4M373.4 137.8H366.1V138.2H373.4M373.4 137.5H364.1V138.0H366.1M365.9 137.0H363.8V137.8H364.1M366.1 136.3H363.5V137.4H363.8M367.4 135.1H360.0V136.8H363.5M365.0 134.2H359.7V136.0H360.0M373.4 138.9H367.1V139.2H373.4M373.4 138.5H366.8V139.0H367.1M359.7 135.1H359.4V138.8H366.8M364.2 132.4H356.9V136.9H359.4M373.4 139.5H365.2V139.9H373.4M373.4 140.2H367.7V140.5H373.4M367.7 140.4H367.4V140.9H373.4M373.4 141.2H367.6V141.5H373.4M373.4 141.9H367.5V142.2H373.4M367.6 141.4H367.2V142.0H367.5M367.4 140.6H366.5V141.7H367.2M365.2 139.7H360.7V141.2H366.5M373.4 142.5H366.6V142.9H373.4M373.4 143.2H367.4V143.5H373.4M366.6 142.7H366.3V143.4H367.4M373.4 143.9H368.5V144.2H373.4M368.5 144.0H365.8V144.5H373.4M373.4 144.9H366.5V145.2H373.4M365.8 144.3H365.4V145.1H366.5M365.4 144.7H363.8V145.6H373.4M373.4 145.9H366.9V146.2H373.4M366.9 146.1H364.6V146.6H373.4M373.4 146.9H368.2V147.2H373.4M364.6 146.3H364.3V147.1H368.2M363.8 145.1H363.5V146.7H364.3M366.3 143.0H360.1V145.9H363.5M360.7 140.4H358.0V144.5H360.1M373.4 147.6H367.7V147.9H373.4M373.4 148.6H367.7V148.9H373.4M373.4 149.6H368.4V149.9H373.4M373.4 149.2H367.2V149.7H368.4M367.7 148.7H365.9V149.5H367.2M373.4 148.2H365.1V149.1H365.9M367.7 147.7H364.8V148.7H365.1M373.4 150.2H365.2V150.6H373.4M365.2 150.4H364.9V150.9H373.4M373.4 151.2H365.5V151.6H373.4M365.5 151.4H365.2V151.9H373.4M365.2 151.7H363.3V152.3H373.4M364.9 150.7H362.8V152.0H363.3M373.4 152.6H367.2V152.9H373.4M373.4 153.6H368.0V153.9H373.4M373.4 153.3H366.9V153.8H368.0M367.2 152.8H364.0V153.5H366.9M373.4 154.6H365.7V154.9H373.4M373.4 154.3H365.4V154.8H365.7M364.0 153.1H363.7V154.5H365.4M362.8 151.3H362.5V153.8H363.7M364.8 148.2H362.2V152.6H362.5M358.0 142.4H357.7V150.4H362.2M356.9 134.7H352.4V146.4H357.7M352.7 118.6H346.8V140.5H352.4M353.7 80.3H346.8V129.6H346.8" fill="none" stroke="#111" stroke-width="0.5"/>
<defs><linearGradient id="dg" x1="0" x2="1" y1="0" y2="0"><stop offset="0" stop-color="#000" stop-opacity="0"/><stop offset="1" stop-color="#000" stop-opacity="0.9"/></linearGradient></defs>
<rect x="363" y="55.00" width="6" height="99.70" fill="url(#dg)"/>
<rect x="369" y="54.80" width="4.7" height="100.10" fill="#000"/>
<text x="118.90" y="235.30" font-size="9.5" textLength="102.80" lengthAdjust="spacingAndGlyphs">Murine HSCs: Hallmarks</text>
<rect x="115.90" y="250.85" width="109.60" height="12.30" fill="#3db14a"/>
<line x1="112.20" y1="257.00" x2="115.40" y2="257.00" stroke="#231f20" stroke-width="1.1"/>
<text x="108.60" y="259.90" font-size="8.4" text-anchor="end" textLength="41.20" lengthAdjust="spacingAndGlyphs">E2F Targets</text>
<rect x="115.90" y="268.05" width="104.70" height="12.30" fill="#3db14a"/>
<line x1="112.20" y1="274.20" x2="115.40" y2="274.20" stroke="#231f20" stroke-width="1.1"/>
<text x="108.60" y="277.10" font-size="8.4" text-anchor="end" textLength="57.00" lengthAdjust="spacingAndGlyphs">MYC Targets V1</text>
<rect x="115.90" y="285.35" width="104.70" height="12.30" fill="#3db14a"/>
<line x1="112.20" y1="291.50" x2="115.40" y2="291.50" stroke="#231f20" stroke-width="1.1"/>
<text x="108.60" y="294.40" font-size="8.4" text-anchor="end" textLength="60.20" lengthAdjust="spacingAndGlyphs">G2M Checkpoint</text>
<rect x="115.90" y="302.55" width="87.20" height="12.30" fill="#3db14a"/>
<line x1="112.20" y1="308.70" x2="115.40" y2="308.70" stroke="#231f20" stroke-width="1.1"/>
<text x="108.60" y="311.60" font-size="8.4" text-anchor="end" textLength="57.00" lengthAdjust="spacingAndGlyphs">MYC Targets V2</text>
<rect x="115.90" y="319.95" width="84.40" height="12.30" fill="#3db14a"/>
<line x1="112.20" y1="326.10" x2="115.40" y2="326.10" stroke="#231f20" stroke-width="1.1"/>
<text x="108.60" y="329.00" font-size="8.4" text-anchor="end" textLength="67.60" lengthAdjust="spacingAndGlyphs">MTORC1 Signaling</text>
<rect x="115.90" y="337.15" width="63.50" height="12.30" fill="#3db14a"/>
<line x1="112.20" y1="343.30" x2="115.40" y2="343.30" stroke="#231f20" stroke-width="1.1"/>
<text x="108.60" y="346.20" font-size="8.4" text-anchor="end" textLength="59.10" lengthAdjust="spacingAndGlyphs">UV Response Up</text>
<rect x="115.90" y="354.45" width="62.90" height="12.30" fill="#3db14a"/>
<line x1="112.20" y1="360.60" x2="115.40" y2="360.60" stroke="#231f20" stroke-width="1.1"/>
<text x="108.60" y="363.50" font-size="8.4" text-anchor="end" textLength="42.20" lengthAdjust="spacingAndGlyphs">DNA Repair</text>
<line x1="115.40" y1="243.10" x2="115.40" y2="374.55" stroke="#231f20" stroke-width="1.5"/>
<line x1="114.65" y1="373.80" x2="251.40" y2="373.80" stroke="#231f20" stroke-width="1.5"/>
<line x1="115.40" y1="373.80" x2="115.40" y2="376.60" stroke="#231f20" stroke-width="1.1"/>
<text x="115.40" y="387.00" font-size="8" text-anchor="middle">0</text>
<line x1="149.25" y1="373.80" x2="149.25" y2="376.60" stroke="#231f20" stroke-width="1.1"/>
<text x="149.25" y="387.00" font-size="8" text-anchor="middle">1</text>
<line x1="183.10" y1="373.80" x2="183.10" y2="376.60" stroke="#231f20" stroke-width="1.1"/>
<text x="183.10" y="387.00" font-size="8" text-anchor="middle">2</text>
<line x1="216.95" y1="373.80" x2="216.95" y2="376.60" stroke="#231f20" stroke-width="1.1"/>
<text x="216.95" y="387.00" font-size="8" text-anchor="middle">3</text>
<line x1="250.80" y1="373.80" x2="250.80" y2="376.60" stroke="#231f20" stroke-width="1.1"/>
<text x="250.80" y="387.00" font-size="8" text-anchor="middle">4</text>
<text x="213.80" y="339.10" font-size="8" textLength="36.30" lengthAdjust="spacingAndGlyphs">FDR &lt; 0.01</text>
<text x="139.00" y="400.60" font-size="9.2" textLength="87.80" lengthAdjust="spacingAndGlyphs">Nominal enrichment score</text>
<text x="382.10" y="235.30" font-size="9.5" textLength="93.40" lengthAdjust="spacingAndGlyphs">K562 Cells: Hallmarks</text>
<rect x="355.90" y="253.75" width="125.00" height="17.10" fill="#3db14a"/>
<line x1="352.20" y1="262.30" x2="355.40" y2="262.30" stroke="#231f20" stroke-width="1.1"/>
<text x="349.00" y="265.20" font-size="8.4" text-anchor="end" textLength="56.80" lengthAdjust="spacingAndGlyphs">MYC Targets V2</text>
<rect x="355.90" y="277.05" width="120.10" height="17.10" fill="#3db14a"/>
<line x1="352.20" y1="285.60" x2="355.40" y2="285.60" stroke="#231f20" stroke-width="1.1"/>
<text x="349.00" y="288.50" font-size="8.4" text-anchor="end" textLength="56.80" lengthAdjust="spacingAndGlyphs">MYC Targets V1</text>
<rect x="355.90" y="300.35" width="113.30" height="17.10" fill="#3db14a"/>
<line x1="352.20" y1="308.90" x2="355.40" y2="308.90" stroke="#231f20" stroke-width="1.1"/>
<text x="349.00" y="311.80" font-size="8.4" text-anchor="end" textLength="42.20" lengthAdjust="spacingAndGlyphs">DNA Repair</text>
<rect x="355.90" y="323.75" width="86.60" height="17.10" fill="#3db14a"/>
<line x1="352.20" y1="332.30" x2="355.40" y2="332.30" stroke="#231f20" stroke-width="1.1"/>
<text x="349.00" y="335.20" font-size="8.4" text-anchor="end" textLength="41.60" lengthAdjust="spacingAndGlyphs">E2F Targets</text>
<rect x="355.90" y="347.15" width="85.00" height="17.10" fill="#3db14a"/>
<line x1="352.20" y1="355.70" x2="355.40" y2="355.70" stroke="#231f20" stroke-width="1.1"/>
<text x="349.00" y="358.60" font-size="8.4" text-anchor="end" textLength="60.10" lengthAdjust="spacingAndGlyphs">G2M Checkpoint</text>
<line x1="355.40" y1="243.70" x2="355.40" y2="374.55" stroke="#231f20" stroke-width="1.5"/>
<line x1="354.65" y1="373.80" x2="490.40" y2="373.80" stroke="#231f20" stroke-width="1.5"/>
<line x1="355.40" y1="373.80" x2="355.40" y2="376.60" stroke="#231f20" stroke-width="1.1"/>
<text x="355.40" y="387.00" font-size="8" text-anchor="middle">0.0</text>
<line x1="389.00" y1="373.80" x2="389.00" y2="376.60" stroke="#231f20" stroke-width="1.1"/>
<text x="389.00" y="387.00" font-size="8" text-anchor="middle">0.2</text>
<line x1="422.60" y1="373.80" x2="422.60" y2="376.60" stroke="#231f20" stroke-width="1.1"/>
<text x="422.60" y="387.00" font-size="8" text-anchor="middle">0.4</text>
<line x1="456.20" y1="373.80" x2="456.20" y2="376.60" stroke="#231f20" stroke-width="1.1"/>
<text x="456.20" y="387.00" font-size="8" text-anchor="middle">0.6</text>
<line x1="489.80" y1="373.80" x2="489.80" y2="376.60" stroke="#231f20" stroke-width="1.1"/>
<text x="489.80" y="387.00" font-size="8" text-anchor="middle">0.8</text>
<text x="457.80" y="338.80" font-size="8" textLength="32.00" lengthAdjust="spacingAndGlyphs">FDR ≤ 0.1</text>
<text x="379.00" y="400.60" font-size="9.2" textLength="87.20" lengthAdjust="spacingAndGlyphs">Nominal enrichment score</text>
<text x="66.30" y="429.00" font-size="9.6" textLength="127.50" lengthAdjust="spacingAndGlyphs">Proliferation 24 Hours After IR</text>
<rect x="79.10" y="508.38" width="14.50" height="61.82" fill="#ffffff" stroke="#d3354f" stroke-width="1.6"/>
<rect x="102.80" y="504.21" width="14.60" height="65.99" fill="#88a7c5" stroke="#1d5792" stroke-width="1.8"/>
<rect x="142.80" y="541.13" width="14.30" height="29.07" fill="#ffffff" stroke="#d3354f" stroke-width="1.6"/>
<rect x="166.80" y="513.44" width="13.80" height="56.76" fill="#88a7c5" stroke="#1d5792" stroke-width="1.8"/>
<line x1="86.60" y1="492.70" x2="86.60" y2="508.38" stroke="#d3354f" stroke-width="1.3"/>
<line x1="82.60" y1="492.70" x2="90.60" y2="492.70" stroke="#d3354f" stroke-width="1.3"/>
<line x1="110.20" y1="485.80" x2="110.20" y2="504.21" stroke="#1d5792" stroke-width="1.3"/>
<line x1="106.20" y1="485.80" x2="114.20" y2="485.80" stroke="#1d5792" stroke-width="1.3"/>
<line x1="150.00" y1="526.70" x2="150.00" y2="541.13" stroke="#d3354f" stroke-width="1.3"/>
<line x1="145.20" y1="526.70" x2="154.80" y2="526.70" stroke="#d3354f" stroke-width="1.3"/>
<line x1="173.70" y1="488.60" x2="173.70" y2="513.44" stroke="#1d5792" stroke-width="1.3"/>
<line x1="169.35" y1="488.60" x2="178.05" y2="488.60" stroke="#1d5792" stroke-width="1.3"/>
<rect x="84.95" y="470.45" width="3.1" height="3.1" fill="#fff" stroke="#c81e3c" stroke-width="1.3"/>
<rect x="84.95" y="498.85" width="3.1" height="3.1" fill="#fff" stroke="#c81e3c" stroke-width="1.3"/>
<rect x="78.55" y="506.65" width="3.1" height="3.1" fill="#fff" stroke="#c81e3c" stroke-width="1.3"/>
<rect x="82.65" y="509.95" width="3.1" height="3.1" fill="#fff" stroke="#c81e3c" stroke-width="1.3"/>
<rect x="86.85" y="506.65" width="3.1" height="3.1" fill="#fff" stroke="#c81e3c" stroke-width="1.3"/>
<rect x="91.15" y="508.95" width="3.1" height="3.1" fill="#fff" stroke="#c81e3c" stroke-width="1.3"/>
<rect x="84.95" y="516.75" width="3.1" height="3.1" fill="#fff" stroke="#c81e3c" stroke-width="1.3"/>
<rect x="84.95" y="523.45" width="3.1" height="3.1" fill="#fff" stroke="#c81e3c" stroke-width="1.3"/>
<rect x="84.95" y="527.95" width="3.1" height="3.1" fill="#fff" stroke="#c81e3c" stroke-width="1.3"/>
<rect x="148.25" y="512.55" width="3.1" height="3.1" fill="#fff" stroke="#c81e3c" stroke-width="1.3"/>
<rect x="148.25" y="522.85" width="3.1" height="3.1" fill="#fff" stroke="#c81e3c" stroke-width="1.3"/>
<rect x="144.45" y="536.55" width="3.1" height="3.1" fill="#fff" stroke="#c81e3c" stroke-width="1.3"/>
<rect x="151.75" y="538.85" width="3.1" height="3.1" fill="#fff" stroke="#c81e3c" stroke-width="1.3"/>
<rect x="144.85" y="545.25" width="3.1" height="3.1" fill="#fff" stroke="#c81e3c" stroke-width="1.3"/>
<rect x="151.75" y="544.55" width="3.1" height="3.1" fill="#fff" stroke="#c81e3c" stroke-width="1.3"/>
<rect x="148.25" y="549.55" width="3.1" height="3.1" fill="#fff" stroke="#c81e3c" stroke-width="1.3"/>
<rect x="148.25" y="557.05" width="3.1" height="3.1" fill="#fff" stroke="#c81e3c" stroke-width="1.3"/>
<circle cx="110.40" cy="475.10" r="1.95" fill="#fff" stroke="#1d5792" stroke-width="1.3"/>
<circle cx="110.40" cy="484.30" r="1.95" fill="#fff" stroke="#1d5792" stroke-width="1.3"/>
<circle cx="106.50" cy="494.60" r="1.95" fill="#fff" stroke="#1d5792" stroke-width="1.3"/>
<circle cx="113.90" cy="497.50" r="1.95" fill="#fff" stroke="#1d5792" stroke-width="1.3"/>
<circle cx="106.50" cy="500.80" r="1.95" fill="#fff" stroke="#1d5792" stroke-width="1.3"/>
<circle cx="110.40" cy="510.50" r="1.95" fill="#fff" stroke="#1d5792" stroke-width="1.3"/>
<circle cx="110.40" cy="516.70" r="1.95" fill="#fff" stroke="#1d5792" stroke-width="1.3"/>
<circle cx="110.40" cy="522.50" r="1.95" fill="#fff" stroke="#1d5792" stroke-width="1.3"/>
<circle cx="110.40" cy="526.00" r="1.95" fill="#fff" stroke="#1d5792" stroke-width="1.3"/>
<circle cx="173.80" cy="457.80" r="1.95" fill="#fff" stroke="#1d5792" stroke-width="1.3"/>
<circle cx="173.80" cy="498.20" r="1.95" fill="#fff" stroke="#1d5792" stroke-width="1.3"/>
<circle cx="169.70" cy="511.20" r="1.95" fill="#fff" stroke="#1d5792" stroke-width="1.3"/>
<circle cx="177.70" cy="511.20" r="1.95" fill="#fff" stroke="#1d5792" stroke-width="1.3"/>
<circle cx="169.70" cy="516.40" r="1.95" fill="#fff" stroke="#1d5792" stroke-width="1.3"/>
<circle cx="177.70" cy="516.40" r="1.95" fill="#fff" stroke="#1d5792" stroke-width="1.3"/>
<circle cx="173.80" cy="528.30" r="1.95" fill="#fff" stroke="#1d5792" stroke-width="1.3"/>
<circle cx="173.80" cy="534.00" r="1.95" fill="#fff" stroke="#1d5792" stroke-width="1.3"/>
<circle cx="173.80" cy="541.50" r="1.95" fill="#fff" stroke="#1d5792" stroke-width="1.3"/>
<line x1="70.90" y1="451.00" x2="70.90" y2="571.35" stroke="#231f20" stroke-width="1.5"/>
<line x1="70.15" y1="570.60" x2="189.20" y2="570.60" stroke="#231f20" stroke-width="1.5"/>
<line x1="66.60" y1="570.60" x2="70.90" y2="570.60" stroke="#231f20" stroke-width="1.1"/>
<text x="64.60" y="573.40" font-size="7.8" text-anchor="end">0</text>
<line x1="66.60" y1="540.83" x2="70.90" y2="540.83" stroke="#231f20" stroke-width="1.1"/>
<text x="64.60" y="543.63" font-size="7.8" text-anchor="end">10</text>
<line x1="66.60" y1="511.06" x2="70.90" y2="511.06" stroke="#231f20" stroke-width="1.1"/>
<text x="64.60" y="513.86" font-size="7.8" text-anchor="end">20</text>
<line x1="66.60" y1="481.29" x2="70.90" y2="481.29" stroke="#231f20" stroke-width="1.1"/>
<text x="64.60" y="484.09" font-size="7.8" text-anchor="end">30</text>
<line x1="66.60" y1="451.52" x2="70.90" y2="451.52" stroke="#231f20" stroke-width="1.1"/>
<text x="64.60" y="454.32" font-size="7.8" text-anchor="end">40</text>
<line x1="98.60" y1="570.60" x2="98.60" y2="573.40" stroke="#231f20" stroke-width="1.1"/>
<line x1="161.80" y1="570.60" x2="161.80" y2="573.40" stroke="#231f20" stroke-width="1.1"/>
<text x="98.60" y="583.40" font-size="8" text-anchor="middle" textLength="35.80" lengthAdjust="spacingAndGlyphs">Untreated</text>
<text x="162.00" y="583.40" font-size="8" text-anchor="middle" textLength="34.50" lengthAdjust="spacingAndGlyphs">Irradiated</text>
<text x="49.40" y="511.00" font-size="8.6" text-anchor="middle" transform="rotate(-90 49.40 511.00)">%BrdU<tspan font-size="4.5" dy="-2.5">+</tspan></text>
<path d="M149.8 501.1V447.3H172.6V451.6" fill="none" stroke="#231f20" stroke-width="1.3"/>
<text x="149.60" y="441.30" font-size="8" textLength="24.10" lengthAdjust="spacingAndGlyphs" font-style="italic">p=0.01</text>
<rect x="188.8" y="449.0" width="7.6" height="5.6" fill="#fff" stroke="#c81e3c" stroke-width="1.4"/>
<rect x="188.8" y="461.5" width="7.6" height="5.6" fill="#88a7c5" stroke="#1d5792" stroke-width="1.4"/>
<text x="204.00" y="453.30" font-size="8" textLength="22.90" lengthAdjust="spacingAndGlyphs">gHPRT</text>
<text x="204.00" y="466.70" font-size="8" textLength="23.50" lengthAdjust="spacingAndGlyphs">gCUX1</text>
<rect x="0.6" y="0.6" width="518.8" height="590.8" fill="none" stroke="#000" stroke-width="1.4"/>
</svg>
</body></html>
